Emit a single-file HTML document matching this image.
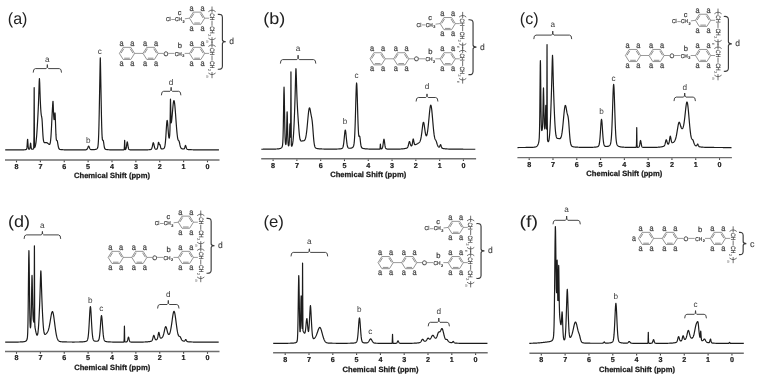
<!DOCTYPE html>
<html><head><meta charset="utf-8"><style>
html,body{margin:0;padding:0;background:#fff;overflow:hidden;}
svg{display:block;font-family:"Liberation Sans",sans-serif;will-change:transform;text-rendering:geometricPrecision;}
</style></head><body>
<svg width="758" height="377" viewBox="0 0 758 377">
<rect width="758" height="377" fill="#fff"/>
<line x1="5" y1="160" x2="219.5" y2="160" stroke="#6e6e6e" stroke-width="1.4"/>
<line x1="207.5" y1="160.6" x2="207.5" y2="162.3" stroke="#444" stroke-width="1.1"/>
<text x="207.5" y="168.9" text-anchor="middle" font-weight="bold" font-size="7.2" fill="#1a1a1a" stroke="#1a1a1a" stroke-width="0.2">0</text>
<line x1="183.62" y1="160.6" x2="183.62" y2="162.3" stroke="#444" stroke-width="1.1"/>
<text x="183.62" y="168.9" text-anchor="middle" font-weight="bold" font-size="7.2" fill="#1a1a1a" stroke="#1a1a1a" stroke-width="0.2">1</text>
<line x1="159.75" y1="160.6" x2="159.75" y2="162.3" stroke="#444" stroke-width="1.1"/>
<text x="159.75" y="168.9" text-anchor="middle" font-weight="bold" font-size="7.2" fill="#1a1a1a" stroke="#1a1a1a" stroke-width="0.2">2</text>
<line x1="135.88" y1="160.6" x2="135.88" y2="162.3" stroke="#444" stroke-width="1.1"/>
<text x="135.88" y="168.9" text-anchor="middle" font-weight="bold" font-size="7.2" fill="#1a1a1a" stroke="#1a1a1a" stroke-width="0.2">3</text>
<line x1="112" y1="160.6" x2="112" y2="162.3" stroke="#444" stroke-width="1.1"/>
<text x="112" y="168.9" text-anchor="middle" font-weight="bold" font-size="7.2" fill="#1a1a1a" stroke="#1a1a1a" stroke-width="0.2">4</text>
<line x1="88.12" y1="160.6" x2="88.12" y2="162.3" stroke="#444" stroke-width="1.1"/>
<text x="88.12" y="168.9" text-anchor="middle" font-weight="bold" font-size="7.2" fill="#1a1a1a" stroke="#1a1a1a" stroke-width="0.2">5</text>
<line x1="64.25" y1="160.6" x2="64.25" y2="162.3" stroke="#444" stroke-width="1.1"/>
<text x="64.25" y="168.9" text-anchor="middle" font-weight="bold" font-size="7.2" fill="#1a1a1a" stroke="#1a1a1a" stroke-width="0.2">6</text>
<line x1="40.38" y1="160.6" x2="40.38" y2="162.3" stroke="#444" stroke-width="1.1"/>
<text x="40.38" y="168.9" text-anchor="middle" font-weight="bold" font-size="7.2" fill="#1a1a1a" stroke="#1a1a1a" stroke-width="0.2">7</text>
<line x1="16.5" y1="160.6" x2="16.5" y2="162.3" stroke="#444" stroke-width="1.1"/>
<text x="16.5" y="168.9" text-anchor="middle" font-weight="bold" font-size="7.2" fill="#1a1a1a" stroke="#1a1a1a" stroke-width="0.2">8</text>
<text x="74" y="178.1" font-weight="bold" font-size="7.6" fill="#1a1a1a" stroke="#1a1a1a" stroke-width="0.25" textLength="76" lengthAdjust="spacingAndGlyphs">Chemical Shift (ppm)</text>
<polyline fill="none" stroke="#1c1c1c" stroke-width="1.2" stroke-linejoin="round" points="5.2,149.96 5.45,149.96 5.7,149.96 5.95,149.96 6.2,149.96 6.45,149.96 6.7,149.96 6.95,149.96 7.2,149.96 7.45,149.96 7.7,149.96 7.95,149.96 8.2,149.96 8.45,149.96 8.7,149.96 8.95,149.96 9.2,149.95 9.45,149.95 9.7,149.95 9.95,149.95 10.2,149.95 10.45,149.95 10.7,149.95 10.95,149.95 11.2,149.95 11.45,149.95 11.7,149.95 11.95,149.95 12.2,149.94 12.45,149.94 12.7,149.94 12.95,149.94 13.2,149.94 13.45,149.94 13.7,149.94 13.95,149.94 14.2,149.94 14.45,149.94 14.7,149.93 14.95,149.93 15.2,149.93 15.45,149.93 15.7,149.93 15.95,149.93 16.2,149.93 16.45,149.92 16.7,149.92 16.95,149.92 17.2,149.92 17.45,149.92 17.7,149.92 17.95,149.91 18.2,149.91 18.45,149.91 18.7,149.91 18.95,149.9 19.2,149.9 19.45,149.9 19.7,149.9 19.95,149.89 20.2,149.89 20.45,149.89 20.7,149.88 20.95,149.88 21.2,149.88 21.45,149.87 21.7,149.87 21.95,149.86 22.2,149.86 22.45,149.85 22.7,149.84 22.95,149.84 23.2,149.83 23.45,149.82 23.7,149.81 23.95,149.8 24.2,149.79 24.45,149.77 24.7,149.75 24.95,149.73 25.2,149.7 25.45,149.67 25.7,149.62 25.95,149.55 26.2,149.45 26.45,149.27 26.7,148.79 26.95,147.38 27.2,144.26 27.45,140.28 27.6,139.23 27.7,139.68 27.95,143.33 28.2,146.78 28.45,148.47 28.7,149.03 28.95,149.2 29.2,149.23 29.45,149.17 29.7,148.88 29.95,147.98 30.2,145.99 30.45,143.58 30.59,143.05 30.7,143.42 30.95,145.75 31.2,147.82 31.45,148.8 31.7,149.13 31.95,149.22 32.2,149.25 32.45,149.24 32.7,149.21 32.95,149.15 33.2,149.05 33.45,148.86 33.7,148.43 33.95,135.87 34.17,87.64 34.2,89.83 34.45,143.35 34.7,147.47 34.95,147.11 35.2,146.43 35.45,145.47 35.7,144.19 35.95,142.56 36.2,140.54 36.45,138.08 36.7,135.18 36.95,131.82 37.2,128.05 37.45,123.91 37.7,119.46 37.95,114.73 38.2,109.66 38.45,103.96 38.7,97.26 38.95,89.42 39.2,81.77 39.42,78.66 39.45,78.7 39.7,83.09 39.95,90.75 40.2,97.98 40.45,103.87 40.7,108.5 40.95,112.03 41.2,114.48 41.45,115.97 41.7,117.01 41.95,118.63 42.05,119.65 42.2,121.83 42.45,126.43 42.7,131.25 42.95,135.36 43.2,138.36 43.45,140.31 43.7,141.47 43.95,142.13 44.2,142.48 44.45,142.66 44.7,142.72 44.95,142.72 45.2,142.68 45.45,142.63 45.7,142.59 45.95,142.56 46.2,142.56 46.34,142.57 46.45,142.59 46.7,142.65 46.95,142.74 47.2,142.87 47.45,143.03 47.7,143.22 47.95,143.43 48.2,143.65 48.45,143.88 48.7,144.11 48.95,144.31 49.2,144.45 49.45,144.49 49.7,144.34 49.95,143.91 50.2,143.07 50.45,141.66 50.7,139.54 50.95,136.59 51.2,132.78 51.45,128.2 51.7,123.09 51.95,117.84 52.2,112.89 52.45,108.44 52.7,104.26 52.79,102.86 52.95,101.23 53.03,101.38 53.2,104.38 53.45,111 53.7,116.21 53.95,119.17 54.2,119.56 54.45,117.54 54.7,114.41 54.95,112.78 55.06,113.22 55.2,115.08 55.45,121.17 55.7,128.5 55.95,134.66 56.2,138.5 56.45,140.15 56.7,140.47 56.95,140.44 57.09,140.55 57.2,140.77 57.45,141.71 57.7,143.1 57.95,144.64 58.2,146.07 58.45,147.23 58.7,148.08 58.95,148.64 59.2,148.99 59.45,149.2 59.7,149.33 59.95,149.41 60.2,149.47 60.45,149.51 60.7,149.55 60.95,149.58 61.2,149.61 61.45,149.63 61.7,149.65 61.95,149.67 62.2,149.69 62.45,149.71 62.7,149.72 62.95,149.73 63.2,149.75 63.45,149.76 63.7,149.77 63.95,149.78 64.2,149.79 64.45,149.79 64.7,149.8 64.95,149.81 65.2,149.81 65.45,149.82 65.7,149.83 65.95,149.83 66.2,149.84 66.45,149.84 66.7,149.84 66.95,149.85 67.2,149.85 67.45,149.86 67.7,149.86 67.95,149.86 68.2,149.87 68.45,149.87 68.7,149.87 68.95,149.87 69.2,149.88 69.45,149.88 69.7,149.88 69.95,149.88 70.2,149.89 70.45,149.89 70.7,149.89 70.95,149.89 71.2,149.89 71.45,149.89 71.7,149.9 71.95,149.9 72.2,149.9 72.45,149.9 72.7,149.9 72.95,149.9 73.2,149.9 73.45,149.9 73.7,149.9 73.95,149.9 74.2,149.91 74.45,149.91 74.7,149.91 74.95,149.91 75.2,149.91 75.45,149.91 75.7,149.91 75.95,149.91 76.2,149.91 76.45,149.91 76.7,149.91 76.95,149.91 77.2,149.91 77.45,149.91 77.7,149.91 77.95,149.91 78.2,149.91 78.45,149.91 78.7,149.91 78.95,149.91 79.2,149.91 79.45,149.91 79.7,149.9 79.95,149.9 80.2,149.9 80.45,149.9 80.7,149.9 80.95,149.9 81.2,149.9 81.45,149.9 81.7,149.89 81.95,149.89 82.2,149.89 82.45,149.89 82.7,149.88 82.95,149.88 83.2,149.88 83.45,149.87 83.7,149.87 83.95,149.86 84.2,149.86 84.45,149.85 84.7,149.84 84.95,149.83 85.2,149.82 85.45,149.8 85.7,149.78 85.95,149.75 86.2,149.71 86.45,149.63 86.7,149.5 86.95,149.28 87.2,148.95 87.45,148.48 87.7,147.9 87.95,147.24 88.2,146.64 88.45,146.24 88.6,146.16 88.7,146.19 88.95,146.52 89.2,147.08 89.45,147.73 89.7,148.33 89.95,148.82 90.2,149.17 90.45,149.4 90.7,149.54 90.95,149.61 91.2,149.66 91.45,149.68 91.7,149.69 91.95,149.69 92.2,149.69 92.45,149.69 92.7,149.68 92.95,149.67 93.2,149.66 93.45,149.64 93.7,149.63 93.95,149.61 94.2,149.58 94.45,149.56 94.7,149.53 94.95,149.49 95.2,149.45 95.45,149.4 95.7,149.35 95.95,149.28 96.2,149.21 96.45,149.11 96.7,148.99 96.95,148.84 97.2,148.61 97.45,148.23 97.7,147.55 97.95,146.3 98.2,144.06 98.45,140.23 98.7,134.18 98.95,125.42 99.2,113.95 99.45,100.48 99.7,86.49 99.95,73.1 100.2,60.13 100.3,57.83 100.45,62.27 100.7,75.55 100.95,88.95 101.2,102.82 101.45,115.73 101.7,126.22 101.95,133.6 102.2,137.94 102.45,139.86 102.7,140.27 102.95,140.14 103.17,140.3 103.2,140.37 103.45,141.36 103.7,142.95 103.95,144.73 104.2,146.32 104.45,147.53 104.7,148.35 104.95,148.83 105.2,149.11 105.45,149.27 105.7,149.37 105.95,149.44 106.2,149.49 106.45,149.53 106.7,149.57 106.95,149.6 107.2,149.63 107.45,149.66 107.7,149.68 107.95,149.7 108.2,149.72 108.45,149.73 108.7,149.75 108.95,149.76 109.2,149.77 109.45,149.78 109.7,149.79 109.95,149.8 110.2,149.81 110.45,149.82 110.7,149.82 110.95,149.83 111.2,149.84 111.45,149.84 111.7,149.85 111.95,149.85 112.2,149.86 112.45,149.86 112.7,149.86 112.95,149.87 113.2,149.87 113.45,149.87 113.7,149.88 113.95,149.88 114.2,149.88 114.45,149.88 114.7,149.89 114.95,149.89 115.2,149.89 115.45,149.89 115.7,149.89 115.95,149.89 116.2,149.9 116.45,149.9 116.7,149.9 116.95,149.9 117.2,149.9 117.45,149.9 117.7,149.9 117.95,149.9 118.2,149.9 118.45,149.9 118.7,149.9 118.95,149.9 119.2,149.9 119.45,149.9 119.7,149.9 119.95,149.9 120.2,149.9 120.45,149.9 120.7,149.89 120.95,149.89 121.2,149.89 121.45,149.89 121.7,149.88 121.95,149.88 122.2,149.88 122.45,149.87 122.7,149.86 122.95,149.85 123.2,149.84 123.45,149.83 123.7,149.8 123.95,149.77 124.2,149.58 124.45,145.89 124.65,140.26 124.7,140.7 124.95,148.18 125.2,149.55 125.45,149.51 125.7,149.3 125.95,148.86 126.2,148.03 126.45,146.69 126.7,144.92 126.95,143.11 127.2,142 127.28,141.93 127.45,142.27 127.7,143.73 127.95,145.59 128.2,147.24 128.45,148.39 128.7,149.07 128.95,149.43 129.2,149.6 129.45,149.68 129.7,149.73 129.95,149.77 130.2,149.79 130.45,149.81 130.7,149.83 130.95,149.84 131.2,149.85 131.45,149.86 131.7,149.86 131.95,149.87 132.2,149.87 132.45,149.88 132.7,149.88 132.95,149.89 133.2,149.89 133.45,149.89 133.7,149.89 133.95,149.89 134.2,149.89 134.45,149.9 134.7,149.9 134.95,149.9 135.2,149.9 135.45,149.9 135.7,149.9 135.95,149.9 136.2,149.9 136.45,149.9 136.7,149.9 136.95,149.9 137.2,149.9 137.45,149.9 137.7,149.9 137.95,149.9 138.2,149.9 138.45,149.89 138.7,149.89 138.95,149.89 139.2,149.89 139.45,149.89 139.7,149.89 139.95,149.89 140.2,149.89 140.45,149.89 140.7,149.89 140.95,149.88 141.2,149.88 141.45,149.88 141.7,149.88 141.95,149.88 142.2,149.88 142.45,149.87 142.7,149.87 142.95,149.87 143.2,149.87 143.45,149.86 143.7,149.86 143.95,149.86 144.2,149.86 144.45,149.85 144.7,149.85 144.95,149.85 145.2,149.84 145.45,149.84 145.7,149.83 145.95,149.83 146.2,149.83 146.45,149.82 146.7,149.81 146.95,149.81 147.2,149.8 147.45,149.8 147.7,149.79 147.95,149.78 148.2,149.77 148.45,149.76 148.7,149.75 148.95,149.73 149.2,149.72 149.45,149.7 149.7,149.68 149.95,149.66 150.2,149.63 150.45,149.58 150.7,149.52 150.95,149.43 151.2,149.26 151.45,148.98 151.7,148.54 151.95,147.86 152.2,146.93 152.45,145.78 152.7,144.54 152.95,143.44 153.2,142.8 153.3,142.73 153.45,142.85 153.7,143.57 153.95,144.69 154.2,145.91 154.45,147.01 154.7,147.87 154.95,148.49 155.2,148.87 155.45,149.1 155.7,149.21 155.95,149.26 156.2,149.27 156.45,149.24 156.7,149.16 156.95,148.99 157.2,148.61 157.45,147.91 157.7,146.77 157.95,145.23 158.2,143.59 158.45,142.45 158.56,142.28 158.7,142.4 158.95,143.27 159.2,144.25 159.45,144.73 159.7,144.67 159.95,144.65 159.99,144.7 160.2,145.31 160.45,146.48 160.7,147.6 160.95,148.36 161.2,148.76 161.45,148.93 161.7,148.99 161.95,148.99 162.2,148.98 162.45,148.95 162.7,148.91 162.95,148.86 163.2,148.79 163.45,148.69 163.7,148.56 163.95,148.36 164.2,148.06 164.45,147.58 164.7,146.82 164.95,145.66 165.2,143.97 165.45,141.63 165.7,138.6 165.95,134.95 166.2,130.9 166.45,126.87 166.7,123.37 166.95,121.02 167.15,120.31 167.2,120.31 167.45,121.36 167.7,123.86 167.95,127.21 168.2,130.77 168.45,133.99 168.7,136.45 168.95,137.88 169.2,138.16 169.45,137.28 169.7,135.18 169.95,130.11 170.2,116.32 170.45,100.05 170.49,99.22 170.7,106.26 170.95,119.24 171.2,122.85 171.45,122.06 171.7,120.25 171.95,117.91 172.2,115.18 172.45,112.22 172.7,109.25 172.95,106.45 173.2,104.04 173.45,102.17 173.7,101 173.95,100.6 173.96,100.6 174.2,101.02 174.45,102.23 174.7,104.15 174.95,106.65 175.2,109.61 175.45,112.88 175.7,116.32 175.95,119.81 176.2,123.25 176.45,126.54 176.7,129.61 176.95,132.38 177.2,134.8 177.45,136.8 177.7,138.36 177.95,139.44 178.2,140.1 178.45,140.43 178.7,140.62 178.95,140.92 179.09,141.22 179.2,141.55 179.45,142.53 179.7,143.73 179.95,144.94 180.2,146.01 180.45,146.87 180.7,147.52 180.95,147.96 181.2,148.26 181.45,148.47 181.7,148.61 181.95,148.72 182.2,148.8 182.45,148.87 182.7,148.92 182.95,148.97 183.2,149 183.45,149.02 183.7,149.01 183.95,148.94 184.2,148.75 184.45,148.37 184.7,147.74 184.95,146.88 185.2,146 185.45,145.46 185.53,145.43 185.7,145.6 185.95,146.35 186.2,147.3 186.45,148.15 186.7,148.75 186.95,149.11 187.2,149.31 187.45,149.41 187.7,149.47 187.95,149.51 188.2,149.54 188.45,149.56 188.7,149.58 188.95,149.6 189.2,149.62 189.45,149.64 189.7,149.65 189.95,149.66 190.2,149.68 190.45,149.69 190.7,149.7 190.95,149.71 191.2,149.72 191.45,149.72 191.7,149.73 191.95,149.74 192.2,149.75 192.45,149.76 192.7,149.76 192.95,149.77 193.2,149.78 193.45,149.78 193.7,149.79 193.95,149.79 194.2,149.8 194.45,149.8 194.7,149.81 194.95,149.81 195.2,149.82 195.45,149.82 195.7,149.82 195.95,149.83 196.2,149.83 196.45,149.84 196.7,149.84 196.95,149.84 197.2,149.85 197.45,149.85 197.7,149.85 197.95,149.86 198.2,149.86 198.45,149.86 198.7,149.86 198.95,149.87 199.2,149.87 199.45,149.87 199.7,149.87 199.95,149.88 200.2,149.88 200.45,149.88 200.7,149.88 200.95,149.89 201.2,149.89 201.45,149.89 201.7,149.89 201.95,149.89 202.2,149.89 202.45,149.9 202.7,149.9 202.95,149.9 203.2,149.9 203.45,149.9 203.7,149.9 203.95,149.91 204.2,149.91 204.45,149.91 204.7,149.91 204.95,149.91 205.2,149.91 205.45,149.91 205.7,149.92 205.95,149.92 206.2,149.92 206.45,149.92 206.7,149.92 206.95,149.92 207.2,149.92 207.45,149.92 207.7,149.93 207.95,149.93 208.2,149.93 208.45,149.93 208.7,149.93 208.95,149.93 209.2,149.93 209.45,149.93 209.7,149.93 209.95,149.93 210.2,149.93 210.45,149.94 210.7,149.94 210.95,149.94 211.2,149.94 211.45,149.94 211.7,149.94 211.95,149.94 212.2,149.94 212.45,149.94 212.7,149.94 212.95,149.94 213.2,149.94 213.45,149.94 213.7,149.95 213.95,149.95 214.2,149.95 214.45,149.95 214.7,149.95 214.95,149.95 215.2,149.95 215.45,149.95 215.7,149.95 215.95,149.95 216.2,149.95 216.45,149.95 216.7,149.95 216.95,149.95 217.2,149.95 217.45,149.95 217.7,149.95 217.95,149.95 218.2,149.96 218.45,149.96 218.7,149.96 218.95,149.96"/>
<text x="7.8" y="23.7" font-size="16.3" fill="#222" textLength="19.6" lengthAdjust="spacingAndGlyphs">(a)</text>
<path d="M33.2,72.6 Q33.2,68.6 35.4,68.6 L46.15,68.6 Q47.35,68.6 47.35,64.6 Q47.35,68.6 48.55,68.6 L59.3,68.6 Q61.5,68.6 61.5,72.6" fill="none" stroke="#3a3a3a" stroke-width="0.95"/>
<text x="47.35" y="61.5" text-anchor="middle" font-size="8.2" fill="#3a3a3a">a</text>
<text x="88.4" y="143.2" text-anchor="middle" font-size="8.2" fill="#3a3a3a">b</text>
<text x="99.9" y="53.9" text-anchor="middle" font-size="8.2" fill="#3a3a3a">c</text>
<path d="M161.4,95.3 Q161.4,91.3 163.6,91.3 L169.95,91.3 Q171.15,91.3 171.15,87.3 Q171.15,91.3 172.35,91.3 L178.7,91.3 Q180.9,91.3 180.9,95.3" fill="none" stroke="#3a3a3a" stroke-width="0.95"/>
<text x="171.15" y="84.5" text-anchor="middle" font-size="8.2" fill="#3a3a3a">d</text>
<polygon points="204.7,18.2 200.9,24.26 193.3,24.26 189.5,18.2 193.3,12.14 200.9,12.14" fill="none" stroke="#707070" stroke-width="0.75"/>
<line x1="200.29" y1="13.52" x2="203.1" y2="18" stroke="#707070" stroke-width="0.8"/>
<line x1="199.91" y1="23.01" x2="194.29" y2="23.01" stroke="#707070" stroke-width="0.8"/>
<line x1="191.1" y1="18" x2="193.91" y2="13.52" stroke="#707070" stroke-width="0.8"/>
<text x="191.6" y="10.8" font-size="8.6" fill="#404040" text-anchor="middle" stroke="#404040" stroke-width="0.22" textLength="4.1" lengthAdjust="spacingAndGlyphs">a</text>
<text x="191.6" y="30.7" font-size="8.6" fill="#404040" text-anchor="middle" stroke="#404040" stroke-width="0.22" textLength="4.1" lengthAdjust="spacingAndGlyphs">a</text>
<text x="202.5" y="10.8" font-size="8.6" fill="#404040" text-anchor="middle" stroke="#404040" stroke-width="0.22" textLength="4.1" lengthAdjust="spacingAndGlyphs">a</text>
<text x="202.5" y="30.7" font-size="8.6" fill="#404040" text-anchor="middle" stroke="#404040" stroke-width="0.22" textLength="4.1" lengthAdjust="spacingAndGlyphs">a</text>
<text x="165.9" y="21.1" font-size="5.6" fill="#404040" text-anchor="start" stroke="#404040" stroke-width="0.22" textLength="4.8" lengthAdjust="spacingAndGlyphs">Cl</text>
<line x1="171.3" y1="19.5" x2="174.9" y2="19.5" stroke="#707070" stroke-width="0.7"/>
<text x="175.1" y="21.1" font-size="5.6" fill="#404040" text-anchor="start" stroke="#404040" stroke-width="0.22" textLength="7" lengthAdjust="spacingAndGlyphs">CH</text>
<text x="182.5" y="22.6" font-size="3.8" fill="#404040" text-anchor="start" stroke="#404040" stroke-width="0.22">2</text>
<line x1="184.9" y1="18.8" x2="189.5" y2="18.2" stroke="#707070" stroke-width="0.7"/>
<text x="179.5" y="14.6" font-size="7.4" fill="#3a3a3a" text-anchor="middle" stroke="#3a3a3a" stroke-width="0.22">c</text>
<line x1="204.7" y1="18.2" x2="209.1" y2="18.2" stroke="#707070" stroke-width="0.7"/>
<g transform="translate(212,10) scale(1)">
<path d="M-3.6,1.7 Q0,-1.5 3.6,1.7" fill="none" stroke="#404040" stroke-width="0.75"/>
<line x1="0" y1="-3.5" x2="0" y2="2.8" stroke="#404040" stroke-width="0.75"/>
<text transform="translate(-2.2,3.2) rotate(90)" font-size="6.3" fill="#404040" stroke="#404040" stroke-width="0.2" textLength="7.2" lengthAdjust="spacingAndGlyphs">CH</text>
<line x1="0" y1="10.7" x2="0" y2="15.8" stroke="#404040" stroke-width="0.75"/>
<text transform="translate(-2.2,16.3) rotate(90)" font-size="6.3" fill="#404040" stroke="#404040" stroke-width="0.2" textLength="7.4" lengthAdjust="spacingAndGlyphs">CH</text>
<text transform="translate(-4.2,24.0) rotate(90)" font-size="4.2" fill="#404040">2</text>
<path d="M-3.6,28.2 Q0,31.4 3.6,28.2" fill="none" stroke="#404040" stroke-width="0.75"/>
<line x1="0" y1="27.2" x2="0" y2="33.4" stroke="#404040" stroke-width="0.75"/>
<text transform="translate(-6.0,30.6) rotate(90)" font-size="4.2" fill="#404040">n</text>
</g>
<polygon points="204.7,53.4 200.9,59.46 193.3,59.46 189.5,53.4 193.3,47.34 200.9,47.34" fill="none" stroke="#707070" stroke-width="0.75"/>
<line x1="200.29" y1="48.72" x2="203.1" y2="53.2" stroke="#707070" stroke-width="0.8"/>
<line x1="199.91" y1="58.21" x2="194.29" y2="58.21" stroke="#707070" stroke-width="0.8"/>
<line x1="191.1" y1="53.2" x2="193.91" y2="48.72" stroke="#707070" stroke-width="0.8"/>
<text x="191.6" y="46" font-size="8.6" fill="#404040" text-anchor="middle" stroke="#404040" stroke-width="0.22" textLength="4.1" lengthAdjust="spacingAndGlyphs">a</text>
<text x="191.6" y="65.9" font-size="8.6" fill="#404040" text-anchor="middle" stroke="#404040" stroke-width="0.22" textLength="4.1" lengthAdjust="spacingAndGlyphs">a</text>
<text x="202.5" y="46" font-size="8.6" fill="#404040" text-anchor="middle" stroke="#404040" stroke-width="0.22" textLength="4.1" lengthAdjust="spacingAndGlyphs">a</text>
<text x="202.5" y="65.9" font-size="8.6" fill="#404040" text-anchor="middle" stroke="#404040" stroke-width="0.22" textLength="4.1" lengthAdjust="spacingAndGlyphs">a</text>
<polygon points="158.2,53.4 154.4,59.46 146.8,59.46 143,53.4 146.8,47.34 154.4,47.34" fill="none" stroke="#707070" stroke-width="0.75"/>
<line x1="153.79" y1="48.72" x2="156.6" y2="53.2" stroke="#707070" stroke-width="0.8"/>
<line x1="153.41" y1="58.21" x2="147.79" y2="58.21" stroke="#707070" stroke-width="0.8"/>
<line x1="144.6" y1="53.2" x2="147.41" y2="48.72" stroke="#707070" stroke-width="0.8"/>
<text x="145.1" y="46" font-size="8.6" fill="#404040" text-anchor="middle" stroke="#404040" stroke-width="0.22" textLength="4.1" lengthAdjust="spacingAndGlyphs">a</text>
<text x="145.1" y="65.9" font-size="8.6" fill="#404040" text-anchor="middle" stroke="#404040" stroke-width="0.22" textLength="4.1" lengthAdjust="spacingAndGlyphs">a</text>
<text x="156" y="46" font-size="8.6" fill="#404040" text-anchor="middle" stroke="#404040" stroke-width="0.22" textLength="4.1" lengthAdjust="spacingAndGlyphs">a</text>
<text x="156" y="65.9" font-size="8.6" fill="#404040" text-anchor="middle" stroke="#404040" stroke-width="0.22" textLength="4.1" lengthAdjust="spacingAndGlyphs">a</text>
<polygon points="134.6,53.4 130.8,59.46 123.2,59.46 119.4,53.4 123.2,47.34 130.8,47.34" fill="none" stroke="#707070" stroke-width="0.75"/>
<line x1="130.19" y1="48.72" x2="133" y2="53.2" stroke="#707070" stroke-width="0.8"/>
<line x1="129.81" y1="58.21" x2="124.19" y2="58.21" stroke="#707070" stroke-width="0.8"/>
<line x1="121" y1="53.2" x2="123.81" y2="48.72" stroke="#707070" stroke-width="0.8"/>
<text x="121.5" y="46" font-size="8.6" fill="#404040" text-anchor="middle" stroke="#404040" stroke-width="0.22" textLength="4.1" lengthAdjust="spacingAndGlyphs">a</text>
<text x="121.5" y="65.9" font-size="8.6" fill="#404040" text-anchor="middle" stroke="#404040" stroke-width="0.22" textLength="4.1" lengthAdjust="spacingAndGlyphs">a</text>
<text x="132.4" y="46" font-size="8.6" fill="#404040" text-anchor="middle" stroke="#404040" stroke-width="0.22" textLength="4.1" lengthAdjust="spacingAndGlyphs">a</text>
<text x="132.4" y="65.9" font-size="8.6" fill="#404040" text-anchor="middle" stroke="#404040" stroke-width="0.22" textLength="4.1" lengthAdjust="spacingAndGlyphs">a</text>
<line x1="134.6" y1="53.4" x2="143" y2="53.4" stroke="#707070" stroke-width="0.7"/>
<line x1="158.2" y1="53.4" x2="163.5" y2="53.4" stroke="#707070" stroke-width="0.7"/>
<text x="165.9" y="55.9" font-size="6.3" fill="#404040" text-anchor="middle" stroke="#404040" stroke-width="0.22">O</text>
<line x1="168.3" y1="53.4" x2="174.5" y2="53.4" stroke="#707070" stroke-width="0.7"/>
<text x="174.8" y="55.7" font-size="5.6" fill="#404040" text-anchor="start" stroke="#404040" stroke-width="0.22" textLength="7" lengthAdjust="spacingAndGlyphs">CH</text>
<text x="182.3" y="57.3" font-size="3.8" fill="#404040" text-anchor="start" stroke="#404040" stroke-width="0.22">2</text>
<line x1="184.7" y1="53.4" x2="189.5" y2="53.4" stroke="#707070" stroke-width="0.7"/>
<text x="179.8" y="48.4" font-size="7.6" fill="#3a3a3a" text-anchor="middle" stroke="#3a3a3a" stroke-width="0.22">b</text>
<line x1="204.7" y1="53.4" x2="209.1" y2="53.4" stroke="#707070" stroke-width="0.7"/>
<g transform="translate(212,44.8) scale(1)">
<path d="M-3.6,1.7 Q0,-1.5 3.6,1.7" fill="none" stroke="#404040" stroke-width="0.75"/>
<line x1="0" y1="-3.5" x2="0" y2="2.8" stroke="#404040" stroke-width="0.75"/>
<text transform="translate(-2.2,3.2) rotate(90)" font-size="6.3" fill="#404040" stroke="#404040" stroke-width="0.2" textLength="7.2" lengthAdjust="spacingAndGlyphs">CH</text>
<line x1="0" y1="10.7" x2="0" y2="15.8" stroke="#404040" stroke-width="0.75"/>
<text transform="translate(-2.2,16.3) rotate(90)" font-size="6.3" fill="#404040" stroke="#404040" stroke-width="0.2" textLength="7.4" lengthAdjust="spacingAndGlyphs">CH</text>
<text transform="translate(-4.2,24.0) rotate(90)" font-size="4.2" fill="#404040">2</text>
<path d="M-3.6,28.2 Q0,31.4 3.6,28.2" fill="none" stroke="#404040" stroke-width="0.75"/>
<line x1="0" y1="27.2" x2="0" y2="33.4" stroke="#404040" stroke-width="0.75"/>
<text transform="translate(-6.0,30.6) rotate(90)" font-size="4.2" fill="#404040">n</text>
</g>
<path d="M217.8,14.4 Q222.4,13.8 222.4,17.4 L222.4,39.7 Q222.4,41.7 225.8,41.7 Q222.4,41.7 222.4,43.7 L222.4,66.2 Q222.4,69.8 217.8,69.2" fill="none" stroke="#3a3a3a" stroke-width="1.15"/>
<text x="231.7" y="44.1" font-size="8.5" fill="#3a3a3a" text-anchor="middle" stroke="#3a3a3a" stroke-width="0.1">d</text>
<line x1="261.2" y1="158.8" x2="476.1" y2="158.8" stroke="#6e6e6e" stroke-width="1.4"/>
<line x1="463.42" y1="159.4" x2="463.42" y2="161.1" stroke="#444" stroke-width="1.1"/>
<text x="463.42" y="167.7" text-anchor="middle" font-weight="bold" font-size="7.2" fill="#1a1a1a" stroke="#1a1a1a" stroke-width="0.2">0</text>
<line x1="439.63" y1="159.4" x2="439.63" y2="161.1" stroke="#444" stroke-width="1.1"/>
<text x="439.63" y="167.7" text-anchor="middle" font-weight="bold" font-size="7.2" fill="#1a1a1a" stroke="#1a1a1a" stroke-width="0.2">1</text>
<line x1="415.84" y1="159.4" x2="415.84" y2="161.1" stroke="#444" stroke-width="1.1"/>
<text x="415.84" y="167.7" text-anchor="middle" font-weight="bold" font-size="7.2" fill="#1a1a1a" stroke="#1a1a1a" stroke-width="0.2">2</text>
<line x1="392.05" y1="159.4" x2="392.05" y2="161.1" stroke="#444" stroke-width="1.1"/>
<text x="392.05" y="167.7" text-anchor="middle" font-weight="bold" font-size="7.2" fill="#1a1a1a" stroke="#1a1a1a" stroke-width="0.2">3</text>
<line x1="368.26" y1="159.4" x2="368.26" y2="161.1" stroke="#444" stroke-width="1.1"/>
<text x="368.26" y="167.7" text-anchor="middle" font-weight="bold" font-size="7.2" fill="#1a1a1a" stroke="#1a1a1a" stroke-width="0.2">4</text>
<line x1="344.47" y1="159.4" x2="344.47" y2="161.1" stroke="#444" stroke-width="1.1"/>
<text x="344.47" y="167.7" text-anchor="middle" font-weight="bold" font-size="7.2" fill="#1a1a1a" stroke="#1a1a1a" stroke-width="0.2">5</text>
<line x1="320.68" y1="159.4" x2="320.68" y2="161.1" stroke="#444" stroke-width="1.1"/>
<text x="320.68" y="167.7" text-anchor="middle" font-weight="bold" font-size="7.2" fill="#1a1a1a" stroke="#1a1a1a" stroke-width="0.2">6</text>
<line x1="296.89" y1="159.4" x2="296.89" y2="161.1" stroke="#444" stroke-width="1.1"/>
<text x="296.89" y="167.7" text-anchor="middle" font-weight="bold" font-size="7.2" fill="#1a1a1a" stroke="#1a1a1a" stroke-width="0.2">7</text>
<line x1="273.1" y1="159.4" x2="273.1" y2="161.1" stroke="#444" stroke-width="1.1"/>
<text x="273.1" y="167.7" text-anchor="middle" font-weight="bold" font-size="7.2" fill="#1a1a1a" stroke="#1a1a1a" stroke-width="0.2">8</text>
<text x="330.2" y="177.3" font-weight="bold" font-size="7.6" fill="#1a1a1a" stroke="#1a1a1a" stroke-width="0.25" textLength="76" lengthAdjust="spacingAndGlyphs">Chemical Shift (ppm)</text>
<polyline fill="none" stroke="#1c1c1c" stroke-width="1.2" stroke-linejoin="round" points="261.3,149.23 261.55,149.23 261.8,149.23 262.05,149.23 262.3,149.23 262.55,149.23 262.8,149.23 263.05,149.22 263.3,149.22 263.55,149.22 263.8,149.22 264.05,149.22 264.3,149.22 264.55,149.22 264.8,149.22 265.05,149.21 265.3,149.21 265.55,149.21 265.8,149.21 266.05,149.21 266.3,149.21 266.55,149.2 266.8,149.2 267.05,149.2 267.3,149.2 267.55,149.2 267.8,149.19 268.05,149.19 268.3,149.19 268.55,149.19 268.8,149.18 269.05,149.18 269.3,149.18 269.55,149.18 269.8,149.17 270.05,149.17 270.3,149.17 270.55,149.16 270.8,149.16 271.05,149.16 271.3,149.15 271.55,149.15 271.8,149.15 272.05,149.14 272.3,149.14 272.55,149.13 272.8,149.13 273.05,149.12 273.3,149.12 273.55,149.11 273.8,149.1 274.05,149.1 274.3,149.09 274.55,149.08 274.8,149.07 275.05,149.06 275.3,149.06 275.55,149.05 275.8,149.03 276.05,149.02 276.3,149.01 276.55,149 276.8,148.98 277.05,148.97 277.3,148.95 277.55,148.93 277.8,148.91 278.05,148.88 278.3,148.86 278.55,148.83 278.8,148.79 279.05,148.75 279.3,148.71 279.55,148.66 279.8,148.6 280.05,148.53 280.3,148.45 280.55,148.35 280.8,148.23 281.05,148.09 281.3,147.9 281.55,147.67 281.8,147.36 282.05,146.93 282.3,146.27 282.55,145.08 282.8,142.52 283.05,137.03 283.3,126.72 283.55,111.3 283.8,94.8 284.04,87.17 284.05,87.17 284.3,95.42 284.55,111.93 284.8,126.97 285.05,136.79 285.3,141.83 285.55,143.94 285.8,144.54 286.05,143.93 286.3,141.14 286.55,134.19 286.8,122.73 287.05,112.68 287.14,111.77 287.3,115.04 287.55,126.85 287.8,137.32 288.05,143 288.3,145.21 288.55,145.85 288.8,145.74 289.05,144.58 289.3,141.22 289.55,134.63 289.8,126.62 289.99,123.75 290.05,124.04 290.3,130.08 290.55,137.14 290.8,106.86 290.94,71.97 291.05,96.67 291.3,144.53 291.55,146.12 291.8,146.14 292.05,145.79 292.3,145.11 292.55,144.04 292.8,142.5 293.05,140.4 293.3,137.63 293.55,134.12 293.8,129.83 294.05,124.77 294.3,119.01 294.55,112.6 294.8,105.49 295.05,97.5 295.3,88.39 295.55,78.52 295.8,70.41 295.94,68.72 296.05,69.43 296.3,76.02 296.55,84.74 296.8,92.65 297.05,99.26 297.3,104.78 297.55,109.53 297.8,113.73 298.05,117.56 298.3,121.22 298.32,121.47 298.55,124.8 298.8,128.25 299.05,131.41 299.3,134.13 299.55,136.34 299.8,138.04 300.05,139.27 300.3,140.1 300.55,140.61 300.8,140.9 301.05,141.02 301.3,141.06 301.55,141.03 301.8,140.99 302.05,140.93 302.3,140.88 302.55,140.85 302.8,140.82 302.84,140.81 303.05,140.8 303.3,140.78 303.55,140.76 303.8,140.72 304.05,140.64 304.3,140.51 304.55,140.3 304.8,139.99 305.05,139.54 305.3,138.93 305.55,138.11 305.8,137.06 306.05,135.76 306.3,134.19 306.55,132.33 306.8,130.2 307.05,127.83 307.3,125.26 307.55,122.54 307.8,119.77 308.05,117.05 308.3,114.47 308.55,112.17 308.8,110.27 309.05,108.87 309.3,108.04 309.5,107.83 309.55,107.83 309.8,108.22 310.05,109.1 310.3,110.35 310.55,111.79 310.8,113.28 311.05,114.7 311.3,115.99 311.55,117.21 311.8,118.49 312.05,120.04 312.3,122.06 312.35,122.57 312.55,124.66 312.8,127.77 313.05,131.14 313.3,134.5 313.55,137.61 313.8,140.32 314.05,142.53 314.3,144.25 314.55,145.53 314.8,146.45 315.05,147.08 315.3,147.52 315.55,147.82 315.8,148.03 316.05,148.19 316.3,148.3 316.55,148.39 316.8,148.47 317.05,148.53 317.3,148.58 317.55,148.62 317.8,148.66 318.05,148.69 318.3,148.72 318.55,148.75 318.8,148.78 319.05,148.8 319.3,148.82 319.55,148.84 319.8,148.86 320.05,148.88 320.3,148.89 320.55,148.91 320.8,148.92 321.05,148.93 321.3,148.95 321.55,148.96 321.8,148.97 322.05,148.98 322.3,148.99 322.55,148.99 322.8,149 323.05,149.01 323.3,149.02 323.55,149.02 323.8,149.03 324.05,149.04 324.3,149.04 324.55,149.05 324.8,149.05 325.05,149.06 325.3,149.06 325.55,149.06 325.8,149.07 326.05,149.07 326.3,149.07 326.55,149.08 326.8,149.08 327.05,149.08 327.3,149.09 327.55,149.09 327.8,149.09 328.05,149.09 328.3,149.09 328.55,149.1 328.8,149.1 329.05,149.1 329.3,149.1 329.55,149.1 329.8,149.1 330.05,149.1 330.3,149.1 330.55,149.1 330.8,149.1 331.05,149.1 331.3,149.1 331.55,149.1 331.8,149.1 332.05,149.1 332.3,149.1 332.55,149.1 332.8,149.1 333.05,149.1 333.3,149.09 333.55,149.09 333.8,149.09 334.05,149.09 334.3,149.08 334.55,149.08 334.8,149.08 335.05,149.07 335.3,149.07 335.55,149.07 335.8,149.06 336.05,149.06 336.3,149.05 336.55,149.04 336.8,149.04 337.05,149.03 337.3,149.02 337.55,149.01 337.8,149 338.05,148.99 338.3,148.98 338.55,148.97 338.8,148.95 339.05,148.94 339.3,148.92 339.55,148.9 339.8,148.87 340.05,148.85 340.3,148.82 340.55,148.78 340.8,148.75 341.05,148.7 341.3,148.64 341.55,148.57 341.8,148.48 342.05,148.35 342.3,148.16 342.55,147.87 342.8,147.42 343.05,146.73 343.3,145.73 343.55,144.32 343.8,142.47 344.05,140.19 344.3,137.59 344.55,134.9 344.8,132.45 345.05,130.68 345.3,130.02 345.3,130.02 345.55,130.64 345.8,132.36 346.05,134.78 346.3,137.46 346.55,140.04 346.8,142.31 347.05,144.15 347.3,145.54 347.55,146.53 347.8,147.2 348.05,147.63 348.3,147.9 348.55,148.06 348.8,148.16 349.05,148.22 349.3,148.25 349.55,148.27 349.8,148.27 350.05,148.26 350.3,148.24 350.55,148.21 350.8,148.17 351.05,148.12 351.3,148.06 351.55,147.98 351.8,147.89 352.05,147.78 352.3,147.65 352.55,147.48 352.8,147.27 353.05,146.99 353.3,146.59 353.55,145.99 353.8,145.08 354.05,143.66 354.3,141.48 354.55,138.25 354.8,133.68 355.05,127.58 355.3,119.96 355.55,111.12 355.8,101.76 356.05,92.98 356.3,86.26 356.55,83.1 356.6,82.99 356.8,84.37 357.05,89.68 357.3,97.7 357.55,106.85 357.8,115.79 358.05,123.58 358.3,129.63 358.55,133.7 358.8,135.85 359.05,136.48 359.3,136.25 359.55,136.02 359.7,136.24 359.8,136.62 360.05,138.26 360.3,140.48 360.55,142.72 360.8,144.59 361.05,145.96 361.3,146.86 361.55,147.42 361.8,147.75 362.05,147.97 362.3,148.12 362.55,148.23 362.8,148.32 363.05,148.4 363.3,148.47 363.55,148.53 363.8,148.59 364.05,148.63 364.3,148.68 364.55,148.71 364.8,148.75 365.05,148.78 365.3,148.81 365.55,148.83 365.8,148.86 366.05,148.88 366.3,148.9 366.55,148.91 366.8,148.93 367.05,148.95 367.3,148.96 367.55,148.97 367.8,148.98 368.05,149 368.3,149.01 368.55,149.02 368.8,149.03 369.05,149.03 369.3,149.04 369.55,149.05 369.8,149.06 370.05,149.06 370.3,149.07 370.55,149.08 370.8,149.08 371.05,149.09 371.3,149.09 371.55,149.1 371.8,149.1 372.05,149.1 372.3,149.11 372.55,149.11 372.8,149.11 373.05,149.12 373.3,149.12 373.55,149.12 373.8,149.12 374.05,149.13 374.3,149.13 374.55,149.13 374.8,149.13 375.05,149.13 375.3,149.13 375.55,149.13 375.8,149.13 376.05,149.13 376.3,149.13 376.55,149.13 376.8,149.13 377.05,149.13 377.3,149.13 377.55,149.13 377.8,149.12 378.05,149.12 378.3,149.12 378.55,149.11 378.8,149.1 379.05,149.09 379.3,149.08 379.55,149.06 379.8,149.03 380.05,148.61 380.3,144.92 380.39,144.04 380.55,146.11 380.8,148.8 381.05,148.93 381.3,148.9 381.55,148.84 381.8,148.74 382.05,148.53 382.3,148.15 382.55,147.47 382.8,146.36 383.05,144.78 383.3,142.84 383.55,140.88 383.8,139.49 383.96,139.2 384.05,139.29 384.3,140.38 384.55,142.25 384.8,144.25 385.05,145.95 385.3,147.2 385.55,147.99 385.8,148.45 386.05,148.7 386.3,148.84 386.55,148.91 386.8,148.96 387.05,149 387.3,149.03 387.55,149.05 387.8,149.07 388.05,149.08 388.3,149.1 388.55,149.11 388.8,149.12 389.05,149.12 389.3,149.13 389.55,149.14 389.8,149.14 390.05,149.15 390.3,149.15 390.55,149.15 390.8,149.16 391.05,149.16 391.3,149.16 391.55,149.16 391.8,149.16 392.05,149.16 392.3,149.16 392.55,149.17 392.8,149.17 393.05,149.17 393.3,149.17 393.55,149.17 393.8,149.16 394.05,149.16 394.3,149.16 394.55,149.16 394.8,149.16 395.05,149.16 395.3,149.16 395.55,149.15 395.8,149.15 396.05,149.15 396.3,149.15 396.55,149.14 396.8,149.14 397.05,149.13 397.3,149.13 397.55,149.12 397.8,149.12 398.05,149.11 398.3,149.11 398.55,149.1 398.8,149.09 399.05,149.08 399.3,149.07 399.55,149.06 399.8,149.05 400.05,149.04 400.3,149.03 400.55,149.02 400.8,149 401.05,148.99 401.3,148.97 401.55,148.95 401.8,148.94 402.05,148.92 402.3,148.89 402.55,148.87 402.8,148.85 403.05,148.82 403.3,148.79 403.55,148.76 403.8,148.73 404.05,148.69 404.3,148.66 404.55,148.62 404.8,148.57 405.05,148.53 405.3,148.48 405.55,148.42 405.8,148.37 406.05,148.3 406.3,148.23 406.55,148.15 406.8,148.05 407.05,147.92 407.3,147.73 407.55,147.44 407.8,147 408.05,146.37 408.3,145.52 408.55,144.47 408.8,143.33 409.05,142.3 409.3,141.64 409.42,141.53 409.55,141.57 409.8,142.08 410.05,142.95 410.3,143.9 410.55,144.75 410.8,145.39 411.05,145.79 411.3,145.98 411.55,145.94 411.8,145.66 412.05,145.04 412.3,143.97 412.55,142.45 412.8,140.72 413.05,139.33 413.22,138.94 413.3,138.97 413.55,139.82 413.8,141.3 414.05,142.74 414.3,143.79 414.55,144.4 414.8,144.67 415.05,144.74 415.3,144.7 415.55,144.63 415.8,144.53 416.05,144.42 416.3,144.3 416.55,144.18 416.8,144.05 417.05,143.92 417.3,143.79 417.55,143.65 417.8,143.51 418.05,143.36 418.3,143.21 418.55,143.04 418.8,142.85 419.05,142.64 419.3,142.39 419.55,142.09 419.8,141.71 420.05,141.22 420.3,140.6 420.55,139.81 420.8,138.82 421.05,137.6 421.3,136.15 421.55,134.46 421.8,132.57 422.05,130.53 422.3,128.45 422.55,126.43 422.8,124.65 422.98,123.62 423.05,123.27 423.3,122.45 423.45,122.28 423.55,122.31 423.8,122.85 424.05,123.98 424.3,125.53 424.55,127.33 424.8,129.19 425.05,130.97 425.3,132.57 425.55,133.89 425.8,134.88 426.05,135.51 426.3,135.77 426.55,135.64 426.8,135.15 427.05,134.29 427.3,133.1 427.55,131.58 427.8,129.76 428.05,127.66 428.3,125.33 428.55,122.81 428.8,120.15 429.05,117.43 429.3,114.75 429.55,112.18 429.8,109.86 430.05,107.89 430.3,106.39 430.55,105.46 430.8,105.17 430.83,105.18 431.05,105.56 431.3,106.6 431.55,108.24 431.8,110.36 432.05,112.87 432.3,115.64 432.55,118.55 432.8,121.51 433.05,124.42 433.3,127.2 433.55,129.78 433.8,132.11 434.05,134.14 434.3,135.85 434.55,137.21 434.8,138.25 435.05,139 435.3,139.52 435.55,139.91 435.8,140.28 436.05,140.75 436.06,140.78 436.3,141.38 436.55,142.16 436.8,143.01 437.05,143.86 437.3,144.64 437.55,145.32 437.8,145.88 438.05,146.33 438.3,146.66 438.55,146.91 438.8,147.06 439.05,147.12 439.3,147.04 439.55,146.75 439.8,146.22 440.05,145.52 440.3,144.84 440.55,144.53 440.58,144.53 440.8,144.84 441.05,145.61 441.3,146.49 441.55,147.23 441.8,147.75 442.05,148.06 442.3,148.24 442.55,148.35 442.8,148.43 443.05,148.49 443.3,148.54 443.55,148.59 443.8,148.63 444.05,148.67 444.3,148.7 444.55,148.73 444.8,148.76 445.05,148.79 445.3,148.82 445.55,148.84 445.8,148.86 446.05,148.88 446.3,148.9 446.55,148.92 446.8,148.94 447.05,148.95 447.3,148.97 447.55,148.98 447.8,148.99 448.05,149.01 448.3,149.02 448.55,149.03 448.8,149.04 449.05,149.05 449.3,149.06 449.55,149.06 449.8,149.07 450.05,149.08 450.3,149.09 450.55,149.09 450.8,149.1 451.05,149.11 451.3,149.11 451.55,149.12 451.8,149.12 452.05,149.13 452.3,149.13 452.55,149.14 452.8,149.14 453.05,149.14 453.3,149.15 453.55,149.15 453.8,149.15 454.05,149.16 454.3,149.16 454.55,149.16 454.8,149.17 455.05,149.17 455.3,149.17 455.55,149.17 455.8,149.18 456.05,149.18 456.3,149.18 456.55,149.18 456.8,149.19 457.05,149.19 457.3,149.19 457.55,149.19 457.8,149.19 458.05,149.2 458.3,149.2 458.55,149.2 458.8,149.2 459.05,149.2 459.3,149.2 459.55,149.21 459.8,149.21 460.05,149.21 460.3,149.21 460.55,149.21 460.8,149.21 461.05,149.21 461.3,149.22 461.55,149.22 461.8,149.22 462.05,149.22 462.3,149.22 462.55,149.22 462.8,149.22 463.05,149.22 463.3,149.23 463.55,149.23 463.8,149.23 464.05,149.23 464.3,149.23 464.55,149.23 464.8,149.23 465.05,149.23 465.3,149.23 465.55,149.23 465.8,149.23 466.05,149.24 466.3,149.24 466.55,149.24 466.8,149.24 467.05,149.24 467.3,149.24 467.55,149.24 467.8,149.24 468.05,149.24 468.3,149.24 468.55,149.24 468.8,149.24 469.05,149.24 469.3,149.25 469.55,149.25 469.8,149.25 470.05,149.25 470.3,149.25 470.55,149.25 470.8,149.25 471.05,149.25 471.3,149.25 471.55,149.25 471.8,149.25 472.05,149.25 472.3,149.25 472.55,149.25 472.8,149.25 473.05,149.25 473.3,149.25 473.55,149.25 473.8,149.26 474.05,149.26 474.3,149.26 474.55,149.26 474.8,149.26 475.05,149.26 475.3,149.26"/>
<text x="263.2" y="23.7" font-size="16.3" fill="#222" textLength="22" lengthAdjust="spacingAndGlyphs">(b)</text>
<path d="M280.4,63.6 Q280.4,59.6 282.6,59.6 L296.9,59.6 Q298.1,59.6 298.1,55.2 Q298.1,59.6 299.3,59.6 L313.6,59.6 Q315.8,59.6 315.8,63.6" fill="none" stroke="#3a3a3a" stroke-width="0.95"/>
<text x="298.1" y="51.2" text-anchor="middle" font-size="8.2" fill="#3a3a3a">a</text>
<text x="345" y="123.6" text-anchor="middle" font-size="8.2" fill="#3a3a3a">b</text>
<text x="356.6" y="77.6" text-anchor="middle" font-size="8.2" fill="#3a3a3a">c</text>
<path d="M416.1,101.5 Q416.1,97.5 418.3,97.5 L425.8,97.5 Q427,97.5 427,93.9 Q427,97.5 428.2,97.5 L435.7,97.5 Q437.9,97.5 437.9,101.5" fill="none" stroke="#3a3a3a" stroke-width="0.95"/>
<text x="427" y="89.2" text-anchor="middle" font-size="8.2" fill="#3a3a3a">d</text>
<polygon points="455.35,23.6 451.55,29.66 443.95,29.66 440.15,23.6 443.95,17.54 451.55,17.54" fill="none" stroke="#707070" stroke-width="0.75"/>
<line x1="450.94" y1="18.92" x2="453.75" y2="23.4" stroke="#707070" stroke-width="0.8"/>
<line x1="450.56" y1="28.41" x2="444.94" y2="28.41" stroke="#707070" stroke-width="0.8"/>
<line x1="441.75" y1="23.4" x2="444.56" y2="18.92" stroke="#707070" stroke-width="0.8"/>
<text x="442.25" y="16.2" font-size="8.6" fill="#404040" text-anchor="middle" stroke="#404040" stroke-width="0.22" textLength="4.1" lengthAdjust="spacingAndGlyphs">a</text>
<text x="442.25" y="36.1" font-size="8.6" fill="#404040" text-anchor="middle" stroke="#404040" stroke-width="0.22" textLength="4.1" lengthAdjust="spacingAndGlyphs">a</text>
<text x="453.15" y="16.2" font-size="8.6" fill="#404040" text-anchor="middle" stroke="#404040" stroke-width="0.22" textLength="4.1" lengthAdjust="spacingAndGlyphs">a</text>
<text x="453.15" y="36.1" font-size="8.6" fill="#404040" text-anchor="middle" stroke="#404040" stroke-width="0.22" textLength="4.1" lengthAdjust="spacingAndGlyphs">a</text>
<text x="416.55" y="26.5" font-size="5.6" fill="#404040" text-anchor="start" stroke="#404040" stroke-width="0.22" textLength="4.8" lengthAdjust="spacingAndGlyphs">Cl</text>
<line x1="421.95" y1="24.9" x2="425.55" y2="24.9" stroke="#707070" stroke-width="0.7"/>
<text x="425.75" y="26.5" font-size="5.6" fill="#404040" text-anchor="start" stroke="#404040" stroke-width="0.22" textLength="7" lengthAdjust="spacingAndGlyphs">CH</text>
<text x="433.15" y="28" font-size="3.8" fill="#404040" text-anchor="start" stroke="#404040" stroke-width="0.22">2</text>
<line x1="435.55" y1="24.2" x2="440.15" y2="23.6" stroke="#707070" stroke-width="0.7"/>
<text x="430.15" y="20" font-size="7.4" fill="#3a3a3a" text-anchor="middle" stroke="#3a3a3a" stroke-width="0.22">c</text>
<line x1="455.35" y1="23.6" x2="459.75" y2="23.6" stroke="#707070" stroke-width="0.7"/>
<g transform="translate(462.65,15.4) scale(1)">
<path d="M-3.6,1.7 Q0,-1.5 3.6,1.7" fill="none" stroke="#404040" stroke-width="0.75"/>
<line x1="0" y1="-3.5" x2="0" y2="2.8" stroke="#404040" stroke-width="0.75"/>
<text transform="translate(-2.2,3.2) rotate(90)" font-size="6.3" fill="#404040" stroke="#404040" stroke-width="0.2" textLength="7.2" lengthAdjust="spacingAndGlyphs">CH</text>
<line x1="0" y1="10.7" x2="0" y2="15.8" stroke="#404040" stroke-width="0.75"/>
<text transform="translate(-2.2,16.3) rotate(90)" font-size="6.3" fill="#404040" stroke="#404040" stroke-width="0.2" textLength="7.4" lengthAdjust="spacingAndGlyphs">CH</text>
<text transform="translate(-4.2,24.0) rotate(90)" font-size="4.2" fill="#404040">2</text>
<path d="M-3.6,28.2 Q0,31.4 3.6,28.2" fill="none" stroke="#404040" stroke-width="0.75"/>
<line x1="0" y1="27.2" x2="0" y2="33.4" stroke="#404040" stroke-width="0.75"/>
<text transform="translate(-6.0,30.6) rotate(90)" font-size="4.2" fill="#404040">n</text>
</g>
<polygon points="455.35,58.8 451.55,64.86 443.95,64.86 440.15,58.8 443.95,52.74 451.55,52.74" fill="none" stroke="#707070" stroke-width="0.75"/>
<line x1="450.94" y1="54.12" x2="453.75" y2="58.6" stroke="#707070" stroke-width="0.8"/>
<line x1="450.56" y1="63.61" x2="444.94" y2="63.61" stroke="#707070" stroke-width="0.8"/>
<line x1="441.75" y1="58.6" x2="444.56" y2="54.12" stroke="#707070" stroke-width="0.8"/>
<text x="442.25" y="51.4" font-size="8.6" fill="#404040" text-anchor="middle" stroke="#404040" stroke-width="0.22" textLength="4.1" lengthAdjust="spacingAndGlyphs">a</text>
<text x="442.25" y="71.3" font-size="8.6" fill="#404040" text-anchor="middle" stroke="#404040" stroke-width="0.22" textLength="4.1" lengthAdjust="spacingAndGlyphs">a</text>
<text x="453.15" y="51.4" font-size="8.6" fill="#404040" text-anchor="middle" stroke="#404040" stroke-width="0.22" textLength="4.1" lengthAdjust="spacingAndGlyphs">a</text>
<text x="453.15" y="71.3" font-size="8.6" fill="#404040" text-anchor="middle" stroke="#404040" stroke-width="0.22" textLength="4.1" lengthAdjust="spacingAndGlyphs">a</text>
<polygon points="408.85,58.8 405.05,64.86 397.45,64.86 393.65,58.8 397.45,52.74 405.05,52.74" fill="none" stroke="#707070" stroke-width="0.75"/>
<line x1="404.44" y1="54.12" x2="407.25" y2="58.6" stroke="#707070" stroke-width="0.8"/>
<line x1="404.06" y1="63.61" x2="398.44" y2="63.61" stroke="#707070" stroke-width="0.8"/>
<line x1="395.25" y1="58.6" x2="398.06" y2="54.12" stroke="#707070" stroke-width="0.8"/>
<text x="395.75" y="51.4" font-size="8.6" fill="#404040" text-anchor="middle" stroke="#404040" stroke-width="0.22" textLength="4.1" lengthAdjust="spacingAndGlyphs">a</text>
<text x="395.75" y="71.3" font-size="8.6" fill="#404040" text-anchor="middle" stroke="#404040" stroke-width="0.22" textLength="4.1" lengthAdjust="spacingAndGlyphs">a</text>
<text x="406.65" y="51.4" font-size="8.6" fill="#404040" text-anchor="middle" stroke="#404040" stroke-width="0.22" textLength="4.1" lengthAdjust="spacingAndGlyphs">a</text>
<text x="406.65" y="71.3" font-size="8.6" fill="#404040" text-anchor="middle" stroke="#404040" stroke-width="0.22" textLength="4.1" lengthAdjust="spacingAndGlyphs">a</text>
<polygon points="385.25,58.8 381.45,64.86 373.85,64.86 370.05,58.8 373.85,52.74 381.45,52.74" fill="none" stroke="#707070" stroke-width="0.75"/>
<line x1="380.84" y1="54.12" x2="383.65" y2="58.6" stroke="#707070" stroke-width="0.8"/>
<line x1="380.46" y1="63.61" x2="374.84" y2="63.61" stroke="#707070" stroke-width="0.8"/>
<line x1="371.65" y1="58.6" x2="374.46" y2="54.12" stroke="#707070" stroke-width="0.8"/>
<text x="372.15" y="51.4" font-size="8.6" fill="#404040" text-anchor="middle" stroke="#404040" stroke-width="0.22" textLength="4.1" lengthAdjust="spacingAndGlyphs">a</text>
<text x="372.15" y="71.3" font-size="8.6" fill="#404040" text-anchor="middle" stroke="#404040" stroke-width="0.22" textLength="4.1" lengthAdjust="spacingAndGlyphs">a</text>
<text x="383.05" y="51.4" font-size="8.6" fill="#404040" text-anchor="middle" stroke="#404040" stroke-width="0.22" textLength="4.1" lengthAdjust="spacingAndGlyphs">a</text>
<text x="383.05" y="71.3" font-size="8.6" fill="#404040" text-anchor="middle" stroke="#404040" stroke-width="0.22" textLength="4.1" lengthAdjust="spacingAndGlyphs">a</text>
<line x1="385.25" y1="58.8" x2="393.65" y2="58.8" stroke="#707070" stroke-width="0.7"/>
<line x1="408.85" y1="58.8" x2="414.15" y2="58.8" stroke="#707070" stroke-width="0.7"/>
<text x="416.55" y="61.3" font-size="6.3" fill="#404040" text-anchor="middle" stroke="#404040" stroke-width="0.22">O</text>
<line x1="418.95" y1="58.8" x2="425.15" y2="58.8" stroke="#707070" stroke-width="0.7"/>
<text x="425.45" y="61.1" font-size="5.6" fill="#404040" text-anchor="start" stroke="#404040" stroke-width="0.22" textLength="7" lengthAdjust="spacingAndGlyphs">CH</text>
<text x="432.95" y="62.7" font-size="3.8" fill="#404040" text-anchor="start" stroke="#404040" stroke-width="0.22">2</text>
<line x1="435.35" y1="58.8" x2="440.15" y2="58.8" stroke="#707070" stroke-width="0.7"/>
<text x="430.45" y="53.8" font-size="7.6" fill="#3a3a3a" text-anchor="middle" stroke="#3a3a3a" stroke-width="0.22">b</text>
<line x1="455.35" y1="58.8" x2="459.75" y2="58.8" stroke="#707070" stroke-width="0.7"/>
<g transform="translate(462.65,50.2) scale(1)">
<path d="M-3.6,1.7 Q0,-1.5 3.6,1.7" fill="none" stroke="#404040" stroke-width="0.75"/>
<line x1="0" y1="-3.5" x2="0" y2="2.8" stroke="#404040" stroke-width="0.75"/>
<text transform="translate(-2.2,3.2) rotate(90)" font-size="6.3" fill="#404040" stroke="#404040" stroke-width="0.2" textLength="7.2" lengthAdjust="spacingAndGlyphs">CH</text>
<line x1="0" y1="10.7" x2="0" y2="15.8" stroke="#404040" stroke-width="0.75"/>
<text transform="translate(-2.2,16.3) rotate(90)" font-size="6.3" fill="#404040" stroke="#404040" stroke-width="0.2" textLength="7.4" lengthAdjust="spacingAndGlyphs">CH</text>
<text transform="translate(-4.2,24.0) rotate(90)" font-size="4.2" fill="#404040">2</text>
<path d="M-3.6,28.2 Q0,31.4 3.6,28.2" fill="none" stroke="#404040" stroke-width="0.75"/>
<line x1="0" y1="27.2" x2="0" y2="33.4" stroke="#404040" stroke-width="0.75"/>
<text transform="translate(-6.0,30.6) rotate(90)" font-size="4.2" fill="#404040">n</text>
</g>
<path d="M468.45,19.8 Q473.05,19.2 473.05,22.8 L473.05,45.1 Q473.05,47.1 476.45,47.1 Q473.05,47.1 473.05,49.1 L473.05,71.6 Q473.05,75.2 468.45,74.6" fill="none" stroke="#3a3a3a" stroke-width="1.15"/>
<text x="482.35" y="49.5" font-size="8.5" fill="#3a3a3a" text-anchor="middle" stroke="#3a3a3a" stroke-width="0.1">d</text>
<line x1="517.4" y1="157.6" x2="731.9" y2="157.6" stroke="#6e6e6e" stroke-width="1.4"/>
<line x1="719.52" y1="158.2" x2="719.52" y2="159.9" stroke="#444" stroke-width="1.1"/>
<text x="719.52" y="166.5" text-anchor="middle" font-weight="bold" font-size="7.2" fill="#1a1a1a" stroke="#1a1a1a" stroke-width="0.2">0</text>
<line x1="695.73" y1="158.2" x2="695.73" y2="159.9" stroke="#444" stroke-width="1.1"/>
<text x="695.73" y="166.5" text-anchor="middle" font-weight="bold" font-size="7.2" fill="#1a1a1a" stroke="#1a1a1a" stroke-width="0.2">1</text>
<line x1="671.94" y1="158.2" x2="671.94" y2="159.9" stroke="#444" stroke-width="1.1"/>
<text x="671.94" y="166.5" text-anchor="middle" font-weight="bold" font-size="7.2" fill="#1a1a1a" stroke="#1a1a1a" stroke-width="0.2">2</text>
<line x1="648.15" y1="158.2" x2="648.15" y2="159.9" stroke="#444" stroke-width="1.1"/>
<text x="648.15" y="166.5" text-anchor="middle" font-weight="bold" font-size="7.2" fill="#1a1a1a" stroke="#1a1a1a" stroke-width="0.2">3</text>
<line x1="624.36" y1="158.2" x2="624.36" y2="159.9" stroke="#444" stroke-width="1.1"/>
<text x="624.36" y="166.5" text-anchor="middle" font-weight="bold" font-size="7.2" fill="#1a1a1a" stroke="#1a1a1a" stroke-width="0.2">4</text>
<line x1="600.57" y1="158.2" x2="600.57" y2="159.9" stroke="#444" stroke-width="1.1"/>
<text x="600.57" y="166.5" text-anchor="middle" font-weight="bold" font-size="7.2" fill="#1a1a1a" stroke="#1a1a1a" stroke-width="0.2">5</text>
<line x1="576.78" y1="158.2" x2="576.78" y2="159.9" stroke="#444" stroke-width="1.1"/>
<text x="576.78" y="166.5" text-anchor="middle" font-weight="bold" font-size="7.2" fill="#1a1a1a" stroke="#1a1a1a" stroke-width="0.2">6</text>
<line x1="552.99" y1="158.2" x2="552.99" y2="159.9" stroke="#444" stroke-width="1.1"/>
<text x="552.99" y="166.5" text-anchor="middle" font-weight="bold" font-size="7.2" fill="#1a1a1a" stroke="#1a1a1a" stroke-width="0.2">7</text>
<line x1="529.2" y1="158.2" x2="529.2" y2="159.9" stroke="#444" stroke-width="1.1"/>
<text x="529.2" y="166.5" text-anchor="middle" font-weight="bold" font-size="7.2" fill="#1a1a1a" stroke="#1a1a1a" stroke-width="0.2">8</text>
<text x="586.3" y="176.2" font-weight="bold" font-size="7.6" fill="#1a1a1a" stroke="#1a1a1a" stroke-width="0.25" textLength="76" lengthAdjust="spacingAndGlyphs">Chemical Shift (ppm)</text>
<polyline fill="none" stroke="#1c1c1c" stroke-width="1.2" stroke-linejoin="round" points="517.5,147.53 517.75,147.53 518,147.53 518.25,147.53 518.5,147.53 518.75,147.52 519,147.52 519.25,147.52 519.5,147.52 519.75,147.52 520,147.52 520.25,147.52 520.5,147.52 520.75,147.51 521,147.51 521.25,147.51 521.5,147.51 521.75,147.51 522,147.51 522.25,147.5 522.5,147.5 522.75,147.5 523,147.5 523.25,147.5 523.5,147.5 523.75,147.49 524,147.49 524.25,147.49 524.5,147.49 524.75,147.48 525,147.48 525.25,147.48 525.5,147.48 525.75,147.47 526,147.47 526.25,147.47 526.5,147.47 526.75,147.46 527,147.46 527.25,147.46 527.5,147.45 527.75,147.45 528,147.45 528.25,147.44 528.5,147.44 528.75,147.43 529,147.43 529.25,147.42 529.5,147.42 529.75,147.41 530,147.41 530.25,147.4 530.5,147.39 530.75,147.39 531,147.38 531.25,147.37 531.5,147.36 531.75,147.35 532,147.34 532.25,147.33 532.5,147.32 532.75,147.31 533,147.29 533.25,147.28 533.5,147.26 533.75,147.24 534,147.22 534.25,147.19 534.5,147.16 534.75,147.12 535,147.08 535.25,147.03 535.5,146.96 535.75,146.89 536,146.79 536.25,146.67 536.5,146.53 536.75,146.35 537,146.13 537.25,145.86 537.5,145.52 537.75,145.11 538,144.6 538.25,143.95 538.5,143.14 538.75,142.08 539,140.53 539.25,137.72 539.5,131.19 539.75,116.52 540,91.49 540.25,65.87 540.38,60.71 540.5,64.12 540.75,87.31 541,110.9 541.25,124.3 541.5,129.35 541.75,130.53 542,130.33 542.25,129.34 542.5,126.91 542.75,121.02 543,109.57 543.25,94.81 543.47,87.96 543.5,88.07 543.75,97.73 544,112.39 544.25,122.6 544.5,127.41 544.75,128.87 545,127.75 545.25,122.98 545.5,114.21 545.75,106.06 545.85,105.31 546,108.12 546.25,118.89 546.5,128.75 546.75,128.99 547,50.04 547.04,44.55 547.25,117.2 547.5,139.81 547.75,140.97 548,141.49 548.25,141.65 548.5,141.46 548.75,140.85 549,139.77 549.25,138.12 549.5,135.8 549.75,132.75 550,128.88 550.25,124.2 550.5,118.72 550.75,112.53 551,105.73 551.25,98.35 551.5,90.25 551.75,81.12 552,70.86 552.25,60.7 552.5,55.33 552.51,55.3 552.75,59.37 553,68.92 553.25,78.9 553.5,87.8 553.75,95.64 554,102.73 554.25,109.24 554.5,115.17 554.75,120.42 555,124.91 555.25,128.62 555.5,131.57 555.75,133.82 556,135.48 556.25,136.64 556.5,137.42 556.75,137.9 557,138.19 557.25,138.34 557.5,138.41 557.75,138.44 558,138.46 558.22,138.48 558.25,138.48 558.5,138.51 558.75,138.56 559,138.61 559.25,138.66 559.5,138.69 559.75,138.7 560,138.65 560.25,138.52 560.5,138.28 560.75,137.91 561,137.36 561.25,136.61 561.5,135.64 561.75,134.4 562,132.9 562.25,131.13 562.5,129.08 562.75,126.79 563,124.29 563.25,121.63 563.5,118.89 563.75,116.15 564,113.51 564.25,111.08 564.5,108.96 564.75,107.27 565,106.09 565.25,105.49 565.36,105.42 565.5,105.49 565.75,106.03 566,107.04 566.25,108.37 566.5,109.85 566.75,111.32 567,112.63 567.25,113.72 567.5,114.61 567.75,115.43 568,116.41 568.25,117.81 568.45,119.43 568.5,119.87 568.75,122.64 569,125.95 569.25,129.51 569.5,132.99 569.75,136.17 570,138.87 570.25,141.05 570.5,142.72 570.75,143.94 571,144.8 571.25,145.39 571.5,145.8 571.75,146.09 572,146.29 572.25,146.44 572.5,146.55 572.75,146.64 573,146.72 573.25,146.78 573.5,146.83 573.75,146.88 574,146.91 574.25,146.95 574.5,146.98 574.75,147.01 575,147.04 575.25,147.06 575.5,147.08 575.75,147.11 576,147.12 576.25,147.14 576.5,147.16 576.75,147.17 577,147.19 577.25,147.2 577.5,147.21 577.75,147.22 578,147.24 578.25,147.25 578.5,147.26 578.75,147.26 579,147.27 579.25,147.28 579.5,147.29 579.75,147.29 580,147.3 580.25,147.31 580.5,147.31 580.75,147.32 581,147.32 581.25,147.33 581.5,147.33 581.75,147.34 582,147.34 582.25,147.34 582.5,147.35 582.75,147.35 583,147.35 583.25,147.36 583.5,147.36 583.75,147.36 584,147.36 584.25,147.37 584.5,147.37 584.75,147.37 585,147.37 585.25,147.37 585.5,147.37 585.75,147.37 586,147.37 586.25,147.37 586.5,147.37 586.75,147.37 587,147.37 587.25,147.37 587.5,147.37 587.75,147.37 588,147.37 588.25,147.37 588.5,147.37 588.75,147.36 589,147.36 589.25,147.36 589.5,147.36 589.75,147.35 590,147.35 590.25,147.35 590.5,147.34 590.75,147.34 591,147.33 591.25,147.33 591.5,147.32 591.75,147.32 592,147.31 592.25,147.3 592.5,147.3 592.75,147.29 593,147.28 593.25,147.27 593.5,147.26 593.75,147.24 594,147.23 594.25,147.21 594.5,147.2 594.75,147.18 595,147.16 595.25,147.14 595.5,147.11 595.75,147.08 596,147.05 596.25,147.01 596.5,146.97 596.75,146.92 597,146.87 597.25,146.8 597.5,146.72 597.75,146.63 598,146.49 598.25,146.31 598.5,146.04 598.75,145.63 599,144.99 599.25,144.01 599.5,142.57 599.75,140.55 600,137.87 600.25,134.56 600.5,130.76 600.75,126.79 601,123.14 601.25,120.44 601.5,119.33 601.52,119.32 601.75,120.11 602,122.55 602.25,126.07 602.5,130.01 602.75,133.85 603,137.24 603.25,140.01 603.5,142.12 603.75,143.63 604,144.66 604.25,145.33 604.5,145.76 604.75,146.02 605,146.19 605.25,146.3 605.5,146.37 605.75,146.42 606,146.45 606.25,146.47 606.5,146.48 606.75,146.48 607,146.46 607.25,146.44 607.5,146.41 607.75,146.37 608,146.31 608.25,146.25 608.5,146.16 608.75,146.07 609,145.95 609.25,145.8 609.5,145.62 609.75,145.37 610,145.04 610.25,144.56 610.5,143.84 610.75,142.77 611,141.17 611.25,138.85 611.5,135.59 611.75,131.2 612,125.58 612.25,118.78 612.5,111.06 612.75,102.93 613,95.18 613.25,88.85 613.5,85.05 613.65,84.37 613.75,84.64 614,87.69 614.25,93.53 614.5,101.06 614.75,109.18 615,117.06 615.25,124.12 615.5,130.04 615.75,134.72 616,138.24 616.25,140.77 616.5,142.53 616.75,143.72 617,144.52 617.25,145.06 617.5,145.43 617.75,145.7 618,145.91 618.25,146.08 618.5,146.22 618.75,146.34 619,146.44 619.25,146.53 619.5,146.61 619.75,146.68 620,146.75 620.25,146.8 620.5,146.85 620.75,146.9 621,146.94 621.25,146.98 621.5,147.01 621.75,147.04 622,147.07 622.25,147.09 622.5,147.12 622.75,147.14 623,147.16 623.25,147.18 623.5,147.2 623.75,147.21 624,147.23 624.25,147.24 624.5,147.26 624.75,147.27 625,147.28 625.25,147.29 625.5,147.3 625.75,147.31 626,147.32 626.25,147.33 626.5,147.33 626.75,147.34 627,147.35 627.25,147.35 627.5,147.36 627.75,147.37 628,147.37 628.25,147.38 628.5,147.38 628.75,147.39 629,147.39 629.25,147.39 629.5,147.4 629.75,147.4 630,147.4 630.25,147.41 630.5,147.41 630.75,147.41 631,147.42 631.25,147.42 631.5,147.42 631.75,147.42 632,147.42 632.25,147.43 632.5,147.43 632.75,147.43 633,147.43 633.25,147.43 633.5,147.43 633.75,147.43 634,147.43 634.25,147.43 634.5,147.42 634.75,147.42 635,147.42 635.25,147.41 635.5,147.4 635.75,147.38 636,147.35 636.25,147.25 636.5,143.93 636.73,127.5 636.75,127.76 637,145.43 637.25,147.24 637.5,147.3 637.75,147.31 638,147.3 638.25,147.27 638.5,147.22 638.75,147.12 639,146.9 639.25,146.47 639.5,145.67 639.75,144.42 640,142.83 640.25,141.29 640.5,140.49 640.54,140.48 640.75,140.94 641,142.34 641.25,143.98 641.5,145.35 641.75,146.28 642,146.81 642.25,147.08 642.5,147.21 642.75,147.28 643,147.32 643.25,147.35 643.5,147.37 643.75,147.38 644,147.4 644.25,147.41 644.5,147.42 644.75,147.42 645,147.43 645.25,147.43 645.5,147.44 645.75,147.44 646,147.45 646.25,147.45 646.5,147.45 646.75,147.45 647,147.45 647.25,147.45 647.5,147.45 647.75,147.46 648,147.46 648.25,147.46 648.5,147.46 648.75,147.46 649,147.46 649.25,147.45 649.5,147.45 649.75,147.45 650,147.45 650.25,147.45 650.5,147.45 650.75,147.45 651,147.44 651.25,147.44 651.5,147.44 651.75,147.44 652,147.43 652.25,147.43 652.5,147.43 652.75,147.42 653,147.42 653.25,147.42 653.5,147.41 653.75,147.41 654,147.4 654.25,147.4 654.5,147.39 654.75,147.38 655,147.37 655.25,147.37 655.5,147.36 655.75,147.35 656,147.34 656.25,147.33 656.5,147.32 656.75,147.3 657,147.29 657.25,147.28 657.5,147.26 657.75,147.25 658,147.23 658.25,147.21 658.5,147.19 658.75,147.17 659,147.15 659.25,147.13 659.5,147.1 659.75,147.07 660,147.04 660.25,147.01 660.5,146.98 660.75,146.95 661,146.91 661.25,146.87 661.5,146.83 661.75,146.78 662,146.73 662.25,146.68 662.5,146.62 662.75,146.56 663,146.49 663.25,146.42 663.5,146.32 663.75,146.21 664,146.05 664.25,145.81 664.5,145.45 664.75,144.92 665,144.16 665.25,143.2 665.5,142.08 665.75,140.97 666,140.11 666.23,139.76 666.25,139.75 666.5,140.02 666.75,140.76 667,141.7 667.25,142.61 667.5,143.35 667.75,143.86 668,144.14 668.25,144.19 668.5,144.02 668.75,143.58 669,142.81 669.25,141.65 669.5,140.12 669.75,138.41 670,136.93 670.25,136.19 670.27,136.17 670.5,136.52 670.75,137.69 671,139.18 671.25,140.56 671.5,141.6 671.75,142.27 672,142.62 672.25,142.74 672.5,142.74 672.75,142.67 673,142.56 673.25,142.42 673.5,142.26 673.75,142.06 674,141.83 674.25,141.55 674.5,141.22 674.75,140.82 675,140.34 675.25,139.76 675.5,139.07 675.75,138.26 676,137.31 676.25,136.23 676.5,135.01 676.75,133.66 677,132.21 677.25,130.68 677.5,129.11 677.75,127.56 678,126.08 678.25,124.75 678.5,123.64 678.75,122.82 679,122.34 679.08,122.26 679.25,122.22 679.5,122.45 679.75,122.96 680,123.69 680.25,124.55 680.5,125.44 680.75,126.31 681,127.08 681.25,127.74 681.5,128.24 681.75,128.57 682,128.73 682.25,128.72 682.5,128.53 682.65,128.35 682.75,128.17 683,127.63 683.25,126.89 683.5,125.94 683.75,124.76 684,123.34 684.25,121.68 684.5,119.79 684.75,117.7 685,115.44 685.25,113.08 685.5,110.71 685.75,108.42 686,106.31 686.25,104.51 686.5,103.12 686.75,102.26 687,101.98 687.05,101.99 687.25,102.32 687.5,103.28 687.75,104.81 688,106.83 688.25,109.23 688.5,111.92 688.75,114.78 689,117.73 689.25,120.67 689.5,123.54 689.75,126.26 690,128.8 690.25,131.1 690.5,133.14 690.75,134.88 691,136.32 691.25,137.44 691.5,138.26 691.75,138.8 692,139.13 692.25,139.32 692.5,139.48 692.75,139.73 692.88,139.92 693,140.15 693.25,140.75 693.5,141.49 693.75,142.28 694,143.05 694.25,143.73 694.5,144.32 694.75,144.79 695,145.15 695.25,145.42 695.5,145.62 695.75,145.76 696,145.83 696.25,145.82 696.5,145.68 696.75,145.38 697,144.93 697.25,144.42 697.5,144.06 697.63,144.03 697.75,144.11 698,144.56 698.25,145.19 698.5,145.78 698.75,146.22 699,146.5 699.25,146.67 699.5,146.76 699.75,146.83 700,146.88 700.25,146.92 700.5,146.96 700.75,146.99 701,147.02 701.25,147.05 701.5,147.08 701.75,147.1 702,147.12 702.25,147.14 702.5,147.16 702.75,147.18 703,147.2 703.25,147.22 703.5,147.23 703.75,147.24 704,147.26 704.25,147.27 704.5,147.28 704.75,147.29 705,147.3 705.25,147.31 705.5,147.32 705.75,147.33 706,147.34 706.25,147.35 706.5,147.35 706.75,147.36 707,147.37 707.25,147.37 707.5,147.38 707.75,147.39 708,147.39 708.25,147.4 708.5,147.4 708.75,147.41 709,147.41 709.25,147.42 709.5,147.42 709.75,147.42 710,147.43 710.25,147.43 710.5,147.44 710.75,147.44 711,147.44 711.25,147.45 711.5,147.45 711.75,147.45 712,147.45 712.25,147.46 712.5,147.46 712.75,147.46 713,147.47 713.25,147.47 713.5,147.47 713.75,147.47 714,147.47 714.25,147.48 714.5,147.48 714.75,147.48 715,147.48 715.25,147.48 715.5,147.49 715.75,147.49 716,147.49 716.25,147.49 716.5,147.49 716.75,147.5 717,147.5 717.25,147.5 717.5,147.5 717.75,147.5 718,147.5 718.25,147.5 718.5,147.51 718.75,147.51 719,147.51 719.25,147.51 719.5,147.51 719.75,147.51 720,147.51 720.25,147.51 720.5,147.52 720.75,147.52 721,147.52 721.25,147.52 721.5,147.52 721.75,147.52 722,147.52 722.25,147.52 722.5,147.52 722.75,147.52 723,147.53 723.25,147.53 723.5,147.53 723.75,147.53 724,147.53 724.25,147.53 724.5,147.53 724.75,147.53 725,147.53 725.25,147.53 725.5,147.53 725.75,147.54 726,147.54 726.25,147.54 726.5,147.54 726.75,147.54 727,147.54 727.25,147.54 727.5,147.54 727.75,147.54 728,147.54 728.25,147.54 728.5,147.54 728.75,147.54 729,147.54 729.25,147.54 729.5,147.54 729.75,147.55 730,147.55 730.25,147.55 730.5,147.55 730.75,147.55 731,147.55 731.25,147.55 731.5,147.55"/>
<text x="519.8" y="23.7" font-size="16.3" fill="#222" textLength="18.8" lengthAdjust="spacingAndGlyphs">(c)</text>
<path d="M533.8,39.1 Q533.8,35.1 536,35.1 L551.55,35.1 Q552.75,35.1 552.75,31.1 Q552.75,35.1 553.95,35.1 L569.5,35.1 Q571.7,35.1 571.7,39.1" fill="none" stroke="#3a3a3a" stroke-width="0.95"/>
<text x="552.75" y="27.4" text-anchor="middle" font-size="8.2" fill="#3a3a3a">a</text>
<text x="601.5" y="114" text-anchor="middle" font-size="8.2" fill="#3a3a3a">b</text>
<text x="613.5" y="80.5" text-anchor="middle" font-size="8.2" fill="#3a3a3a">c</text>
<path d="M674,101.1 Q674,97.1 676.2,97.1 L683.5,97.1 Q684.7,97.1 684.7,93 Q684.7,97.1 685.9,97.1 L693.2,97.1 Q695.4,97.1 695.4,101.1" fill="none" stroke="#3a3a3a" stroke-width="0.95"/>
<text x="684.7" y="89.6" text-anchor="middle" font-size="8.2" fill="#3a3a3a">d</text>
<polygon points="710.7,20.3 706.9,26.36 699.3,26.36 695.5,20.3 699.3,14.24 706.9,14.24" fill="none" stroke="#707070" stroke-width="0.75"/>
<line x1="706.29" y1="15.62" x2="709.1" y2="20.1" stroke="#707070" stroke-width="0.8"/>
<line x1="705.91" y1="25.11" x2="700.29" y2="25.11" stroke="#707070" stroke-width="0.8"/>
<line x1="697.1" y1="20.1" x2="699.91" y2="15.62" stroke="#707070" stroke-width="0.8"/>
<text x="697.6" y="12.9" font-size="8.6" fill="#404040" text-anchor="middle" stroke="#404040" stroke-width="0.22" textLength="4.1" lengthAdjust="spacingAndGlyphs">a</text>
<text x="697.6" y="32.8" font-size="8.6" fill="#404040" text-anchor="middle" stroke="#404040" stroke-width="0.22" textLength="4.1" lengthAdjust="spacingAndGlyphs">a</text>
<text x="708.5" y="12.9" font-size="8.6" fill="#404040" text-anchor="middle" stroke="#404040" stroke-width="0.22" textLength="4.1" lengthAdjust="spacingAndGlyphs">a</text>
<text x="708.5" y="32.8" font-size="8.6" fill="#404040" text-anchor="middle" stroke="#404040" stroke-width="0.22" textLength="4.1" lengthAdjust="spacingAndGlyphs">a</text>
<text x="671.9" y="23.2" font-size="5.6" fill="#404040" text-anchor="start" stroke="#404040" stroke-width="0.22" textLength="4.8" lengthAdjust="spacingAndGlyphs">Cl</text>
<line x1="677.3" y1="21.6" x2="680.9" y2="21.6" stroke="#707070" stroke-width="0.7"/>
<text x="681.1" y="23.2" font-size="5.6" fill="#404040" text-anchor="start" stroke="#404040" stroke-width="0.22" textLength="7" lengthAdjust="spacingAndGlyphs">CH</text>
<text x="688.5" y="24.7" font-size="3.8" fill="#404040" text-anchor="start" stroke="#404040" stroke-width="0.22">2</text>
<line x1="690.9" y1="20.9" x2="695.5" y2="20.3" stroke="#707070" stroke-width="0.7"/>
<text x="685.5" y="16.7" font-size="7.4" fill="#3a3a3a" text-anchor="middle" stroke="#3a3a3a" stroke-width="0.22">c</text>
<line x1="710.7" y1="20.3" x2="715.1" y2="20.3" stroke="#707070" stroke-width="0.7"/>
<g transform="translate(718,12.1) scale(1)">
<path d="M-3.6,1.7 Q0,-1.5 3.6,1.7" fill="none" stroke="#404040" stroke-width="0.75"/>
<line x1="0" y1="-3.5" x2="0" y2="2.8" stroke="#404040" stroke-width="0.75"/>
<text transform="translate(-2.2,3.2) rotate(90)" font-size="6.3" fill="#404040" stroke="#404040" stroke-width="0.2" textLength="7.2" lengthAdjust="spacingAndGlyphs">CH</text>
<line x1="0" y1="10.7" x2="0" y2="15.8" stroke="#404040" stroke-width="0.75"/>
<text transform="translate(-2.2,16.3) rotate(90)" font-size="6.3" fill="#404040" stroke="#404040" stroke-width="0.2" textLength="7.4" lengthAdjust="spacingAndGlyphs">CH</text>
<text transform="translate(-4.2,24.0) rotate(90)" font-size="4.2" fill="#404040">2</text>
<path d="M-3.6,28.2 Q0,31.4 3.6,28.2" fill="none" stroke="#404040" stroke-width="0.75"/>
<line x1="0" y1="27.2" x2="0" y2="33.4" stroke="#404040" stroke-width="0.75"/>
<text transform="translate(-6.0,30.6) rotate(90)" font-size="4.2" fill="#404040">n</text>
</g>
<polygon points="710.7,55.5 706.9,61.56 699.3,61.56 695.5,55.5 699.3,49.44 706.9,49.44" fill="none" stroke="#707070" stroke-width="0.75"/>
<line x1="706.29" y1="50.82" x2="709.1" y2="55.3" stroke="#707070" stroke-width="0.8"/>
<line x1="705.91" y1="60.31" x2="700.29" y2="60.31" stroke="#707070" stroke-width="0.8"/>
<line x1="697.1" y1="55.3" x2="699.91" y2="50.82" stroke="#707070" stroke-width="0.8"/>
<text x="697.6" y="48.1" font-size="8.6" fill="#404040" text-anchor="middle" stroke="#404040" stroke-width="0.22" textLength="4.1" lengthAdjust="spacingAndGlyphs">a</text>
<text x="697.6" y="68" font-size="8.6" fill="#404040" text-anchor="middle" stroke="#404040" stroke-width="0.22" textLength="4.1" lengthAdjust="spacingAndGlyphs">a</text>
<text x="708.5" y="48.1" font-size="8.6" fill="#404040" text-anchor="middle" stroke="#404040" stroke-width="0.22" textLength="4.1" lengthAdjust="spacingAndGlyphs">a</text>
<text x="708.5" y="68" font-size="8.6" fill="#404040" text-anchor="middle" stroke="#404040" stroke-width="0.22" textLength="4.1" lengthAdjust="spacingAndGlyphs">a</text>
<polygon points="664.2,55.5 660.4,61.56 652.8,61.56 649,55.5 652.8,49.44 660.4,49.44" fill="none" stroke="#707070" stroke-width="0.75"/>
<line x1="659.79" y1="50.82" x2="662.6" y2="55.3" stroke="#707070" stroke-width="0.8"/>
<line x1="659.41" y1="60.31" x2="653.79" y2="60.31" stroke="#707070" stroke-width="0.8"/>
<line x1="650.6" y1="55.3" x2="653.41" y2="50.82" stroke="#707070" stroke-width="0.8"/>
<text x="651.1" y="48.1" font-size="8.6" fill="#404040" text-anchor="middle" stroke="#404040" stroke-width="0.22" textLength="4.1" lengthAdjust="spacingAndGlyphs">a</text>
<text x="651.1" y="68" font-size="8.6" fill="#404040" text-anchor="middle" stroke="#404040" stroke-width="0.22" textLength="4.1" lengthAdjust="spacingAndGlyphs">a</text>
<text x="662" y="48.1" font-size="8.6" fill="#404040" text-anchor="middle" stroke="#404040" stroke-width="0.22" textLength="4.1" lengthAdjust="spacingAndGlyphs">a</text>
<text x="662" y="68" font-size="8.6" fill="#404040" text-anchor="middle" stroke="#404040" stroke-width="0.22" textLength="4.1" lengthAdjust="spacingAndGlyphs">a</text>
<polygon points="640.6,55.5 636.8,61.56 629.2,61.56 625.4,55.5 629.2,49.44 636.8,49.44" fill="none" stroke="#707070" stroke-width="0.75"/>
<line x1="636.19" y1="50.82" x2="639" y2="55.3" stroke="#707070" stroke-width="0.8"/>
<line x1="635.81" y1="60.31" x2="630.19" y2="60.31" stroke="#707070" stroke-width="0.8"/>
<line x1="627" y1="55.3" x2="629.81" y2="50.82" stroke="#707070" stroke-width="0.8"/>
<text x="627.5" y="48.1" font-size="8.6" fill="#404040" text-anchor="middle" stroke="#404040" stroke-width="0.22" textLength="4.1" lengthAdjust="spacingAndGlyphs">a</text>
<text x="627.5" y="68" font-size="8.6" fill="#404040" text-anchor="middle" stroke="#404040" stroke-width="0.22" textLength="4.1" lengthAdjust="spacingAndGlyphs">a</text>
<text x="638.4" y="48.1" font-size="8.6" fill="#404040" text-anchor="middle" stroke="#404040" stroke-width="0.22" textLength="4.1" lengthAdjust="spacingAndGlyphs">a</text>
<text x="638.4" y="68" font-size="8.6" fill="#404040" text-anchor="middle" stroke="#404040" stroke-width="0.22" textLength="4.1" lengthAdjust="spacingAndGlyphs">a</text>
<line x1="640.6" y1="55.5" x2="649" y2="55.5" stroke="#707070" stroke-width="0.7"/>
<line x1="664.2" y1="55.5" x2="669.5" y2="55.5" stroke="#707070" stroke-width="0.7"/>
<text x="671.9" y="58" font-size="6.3" fill="#404040" text-anchor="middle" stroke="#404040" stroke-width="0.22">O</text>
<line x1="674.3" y1="55.5" x2="680.5" y2="55.5" stroke="#707070" stroke-width="0.7"/>
<text x="680.8" y="57.8" font-size="5.6" fill="#404040" text-anchor="start" stroke="#404040" stroke-width="0.22" textLength="7" lengthAdjust="spacingAndGlyphs">CH</text>
<text x="688.3" y="59.4" font-size="3.8" fill="#404040" text-anchor="start" stroke="#404040" stroke-width="0.22">2</text>
<line x1="690.7" y1="55.5" x2="695.5" y2="55.5" stroke="#707070" stroke-width="0.7"/>
<text x="685.8" y="50.5" font-size="7.6" fill="#3a3a3a" text-anchor="middle" stroke="#3a3a3a" stroke-width="0.22">b</text>
<line x1="710.7" y1="55.5" x2="715.1" y2="55.5" stroke="#707070" stroke-width="0.7"/>
<g transform="translate(718,46.9) scale(1)">
<path d="M-3.6,1.7 Q0,-1.5 3.6,1.7" fill="none" stroke="#404040" stroke-width="0.75"/>
<line x1="0" y1="-3.5" x2="0" y2="2.8" stroke="#404040" stroke-width="0.75"/>
<text transform="translate(-2.2,3.2) rotate(90)" font-size="6.3" fill="#404040" stroke="#404040" stroke-width="0.2" textLength="7.2" lengthAdjust="spacingAndGlyphs">CH</text>
<line x1="0" y1="10.7" x2="0" y2="15.8" stroke="#404040" stroke-width="0.75"/>
<text transform="translate(-2.2,16.3) rotate(90)" font-size="6.3" fill="#404040" stroke="#404040" stroke-width="0.2" textLength="7.4" lengthAdjust="spacingAndGlyphs">CH</text>
<text transform="translate(-4.2,24.0) rotate(90)" font-size="4.2" fill="#404040">2</text>
<path d="M-3.6,28.2 Q0,31.4 3.6,28.2" fill="none" stroke="#404040" stroke-width="0.75"/>
<line x1="0" y1="27.2" x2="0" y2="33.4" stroke="#404040" stroke-width="0.75"/>
<text transform="translate(-6.0,30.6) rotate(90)" font-size="4.2" fill="#404040">n</text>
</g>
<path d="M723.8,16.5 Q728.4,15.9 728.4,19.5 L728.4,41.8 Q728.4,43.8 731.8,43.8 Q728.4,43.8 728.4,45.8 L728.4,68.3 Q728.4,71.9 723.8,71.3" fill="none" stroke="#3a3a3a" stroke-width="1.15"/>
<text x="737.7" y="46.2" font-size="8.5" fill="#3a3a3a" text-anchor="middle" stroke="#3a3a3a" stroke-width="0.1">d</text>
<line x1="5" y1="351.5" x2="219.5" y2="351.5" stroke="#6e6e6e" stroke-width="1.4"/>
<line x1="207.5" y1="352.1" x2="207.5" y2="353.8" stroke="#444" stroke-width="1.1"/>
<text x="207.5" y="360.4" text-anchor="middle" font-weight="bold" font-size="7.2" fill="#1a1a1a" stroke="#1a1a1a" stroke-width="0.2">0</text>
<line x1="183.62" y1="352.1" x2="183.62" y2="353.8" stroke="#444" stroke-width="1.1"/>
<text x="183.62" y="360.4" text-anchor="middle" font-weight="bold" font-size="7.2" fill="#1a1a1a" stroke="#1a1a1a" stroke-width="0.2">1</text>
<line x1="159.75" y1="352.1" x2="159.75" y2="353.8" stroke="#444" stroke-width="1.1"/>
<text x="159.75" y="360.4" text-anchor="middle" font-weight="bold" font-size="7.2" fill="#1a1a1a" stroke="#1a1a1a" stroke-width="0.2">2</text>
<line x1="135.88" y1="352.1" x2="135.88" y2="353.8" stroke="#444" stroke-width="1.1"/>
<text x="135.88" y="360.4" text-anchor="middle" font-weight="bold" font-size="7.2" fill="#1a1a1a" stroke="#1a1a1a" stroke-width="0.2">3</text>
<line x1="112" y1="352.1" x2="112" y2="353.8" stroke="#444" stroke-width="1.1"/>
<text x="112" y="360.4" text-anchor="middle" font-weight="bold" font-size="7.2" fill="#1a1a1a" stroke="#1a1a1a" stroke-width="0.2">4</text>
<line x1="88.12" y1="352.1" x2="88.12" y2="353.8" stroke="#444" stroke-width="1.1"/>
<text x="88.12" y="360.4" text-anchor="middle" font-weight="bold" font-size="7.2" fill="#1a1a1a" stroke="#1a1a1a" stroke-width="0.2">5</text>
<line x1="64.25" y1="352.1" x2="64.25" y2="353.8" stroke="#444" stroke-width="1.1"/>
<text x="64.25" y="360.4" text-anchor="middle" font-weight="bold" font-size="7.2" fill="#1a1a1a" stroke="#1a1a1a" stroke-width="0.2">6</text>
<line x1="40.38" y1="352.1" x2="40.38" y2="353.8" stroke="#444" stroke-width="1.1"/>
<text x="40.38" y="360.4" text-anchor="middle" font-weight="bold" font-size="7.2" fill="#1a1a1a" stroke="#1a1a1a" stroke-width="0.2">7</text>
<line x1="16.5" y1="352.1" x2="16.5" y2="353.8" stroke="#444" stroke-width="1.1"/>
<text x="16.5" y="360.4" text-anchor="middle" font-weight="bold" font-size="7.2" fill="#1a1a1a" stroke="#1a1a1a" stroke-width="0.2">8</text>
<text x="74.2" y="369.9" font-weight="bold" font-size="7.6" fill="#1a1a1a" stroke="#1a1a1a" stroke-width="0.25" textLength="76" lengthAdjust="spacingAndGlyphs">Chemical Shift (ppm)</text>
<polyline fill="none" stroke="#1c1c1c" stroke-width="1.2" stroke-linejoin="round" points="5.2,342.14 5.45,342.14 5.7,342.14 5.95,342.14 6.2,342.14 6.45,342.14 6.7,342.14 6.95,342.14 7.2,342.14 7.45,342.14 7.7,342.13 7.95,342.13 8.2,342.13 8.45,342.13 8.7,342.13 8.95,342.13 9.2,342.13 9.45,342.13 9.7,342.12 9.95,342.12 10.2,342.12 10.45,342.12 10.7,342.12 10.95,342.12 11.2,342.12 11.45,342.11 11.7,342.11 11.95,342.11 12.2,342.11 12.45,342.11 12.7,342.11 12.95,342.1 13.2,342.1 13.45,342.1 13.7,342.1 13.95,342.09 14.2,342.09 14.45,342.09 14.7,342.09 14.95,342.08 15.2,342.08 15.45,342.08 15.7,342.07 15.95,342.07 16.2,342.07 16.45,342.06 16.7,342.06 16.95,342.06 17.2,342.05 17.45,342.05 17.7,342.04 17.95,342.04 18.2,342.03 18.45,342.03 18.7,342.02 18.95,342.01 19.2,342.01 19.45,342 19.7,341.99 19.95,341.98 20.2,341.97 20.45,341.97 20.7,341.96 20.95,341.94 21.2,341.93 21.45,341.92 21.7,341.9 21.95,341.89 22.2,341.87 22.45,341.85 22.7,341.83 22.95,341.81 23.2,341.78 23.45,341.75 23.7,341.72 23.95,341.68 24.2,341.64 24.45,341.59 24.7,341.53 24.95,341.46 25.2,341.37 25.45,341.26 25.7,341.13 25.95,340.96 26.2,340.75 26.45,340.47 26.7,340.1 26.95,339.58 27.2,338.73 27.45,336.98 27.7,332.87 27.95,323.7 28.2,306.75 28.45,282.7 28.7,259.37 28.91,250.61 28.95,250.74 29.2,263.45 29.45,286.79 29.7,307.79 29.95,320.83 30.2,326.55 30.45,327.84 30.7,326.74 30.95,323.44 31.2,316.51 31.45,304.34 31.7,288.31 31.95,276.37 32.02,275.47 32.2,279.22 32.45,292.87 32.7,306.21 32.95,314.67 33.2,318.79 33.21,318.93 33.45,320.64 33.7,321.64 33.95,322.16 34.2,304.48 34.41,245.84 34.45,251.17 34.7,320.83 34.95,326.9 35.2,328.41 35.45,329.76 35.7,331.01 35.95,332.17 36.2,333.2 36.45,334.08 36.7,334.74 36.95,335.15 37.2,335.21 37.45,334.87 37.7,334.03 37.95,332.6 38.2,330.5 38.45,327.66 38.7,324.06 38.95,319.72 39.2,314.71 39.45,309.09 39.7,302.86 39.95,295.88 40.2,288.01 40.45,279.53 40.7,272.49 40.85,270.92 40.95,271.5 41.2,277.37 41.45,285.55 41.7,293.37 41.95,300.3 42.2,306.45 42.45,311.99 42.7,316.97 42.95,321.32 43.2,324.98 43.45,327.94 43.7,330.23 43.95,331.9 44.2,333.06 44.45,333.8 44.7,334.22 44.95,334.4 45.2,334.41 45.45,334.31 45.7,334.14 45.95,333.93 46.2,333.69 46.45,333.42 46.7,333.13 46.95,332.81 47.06,332.66 47.2,332.46 47.45,332.06 47.7,331.6 47.95,331.06 48.2,330.44 48.45,329.71 48.7,328.86 48.95,327.89 49.2,326.79 49.45,325.56 49.7,324.22 49.95,322.78 50.2,321.27 50.45,319.72 50.7,318.16 50.95,316.65 51.2,315.25 51.45,313.99 51.7,312.95 51.95,312.17 52.2,311.71 52.45,311.59 52.55,311.64 52.7,311.83 52.95,312.44 53.2,313.39 53.45,314.64 53.7,316.15 53.95,317.87 54.2,319.73 54.45,321.67 54.7,323.65 54.95,325.62 55.2,327.53 55.45,329.35 55.7,331.06 55.95,332.63 56.2,334.05 56.45,335.31 56.7,336.42 56.95,337.38 57.2,338.2 57.45,338.88 57.7,339.46 57.95,339.93 58.2,340.31 58.45,340.62 58.7,340.87 58.95,341.06 59.2,341.22 59.45,341.34 59.7,341.44 59.95,341.51 60.2,341.58 60.45,341.62 60.7,341.67 60.95,341.7 61.2,341.73 61.45,341.75 61.7,341.77 61.95,341.79 62.2,341.81 62.45,341.82 62.7,341.84 62.95,341.85 63.2,341.86 63.45,341.87 63.7,341.89 63.95,341.9 64.2,341.9 64.45,341.91 64.7,341.92 64.95,341.93 65.2,341.94 65.45,341.94 65.7,341.95 65.95,341.96 66.2,341.96 66.45,341.97 66.7,341.97 66.95,341.98 67.2,341.98 67.45,341.98 67.7,341.99 67.95,341.99 68.2,342 68.45,342 68.7,342 68.95,342 69.2,342.01 69.45,342.01 69.7,342.01 69.95,342.01 70.2,342.02 70.45,342.02 70.7,342.02 70.95,342.02 71.2,342.02 71.45,342.02 71.7,342.02 71.95,342.02 72.2,342.03 72.45,342.03 72.7,342.03 72.95,342.03 73.2,342.03 73.45,342.03 73.7,342.03 73.95,342.03 74.2,342.03 74.45,342.03 74.7,342.02 74.95,342.02 75.2,342.02 75.45,342.02 75.7,342.02 75.95,342.02 76.2,342.02 76.45,342.01 76.7,342.01 76.95,342.01 77.2,342.01 77.45,342 77.7,342 77.95,342 78.2,341.99 78.45,341.99 78.7,341.99 78.95,341.98 79.2,341.98 79.45,341.97 79.7,341.96 79.95,341.96 80.2,341.95 80.45,341.94 80.7,341.93 80.95,341.92 81.2,341.91 81.45,341.9 81.7,341.89 81.95,341.88 82.2,341.87 82.45,341.85 82.7,341.83 82.95,341.81 83.2,341.79 83.45,341.77 83.7,341.75 83.95,341.72 84.2,341.69 84.45,341.65 84.7,341.61 84.95,341.57 85.2,341.52 85.45,341.46 85.7,341.39 85.95,341.31 86.2,341.21 86.45,341.09 86.7,340.94 86.95,340.72 87.2,340.39 87.45,339.91 87.7,339.18 87.95,338.08 88.2,336.49 88.45,334.26 88.7,331.29 88.95,327.58 89.2,323.23 89.45,318.49 89.7,313.81 89.95,309.81 90.2,307.21 90.39,306.56 90.45,306.61 90.7,308.17 90.95,311.48 91.2,315.87 91.45,320.63 91.7,325.23 91.95,329.31 92.2,332.67 92.45,335.28 92.7,337.2 92.95,338.54 93.2,339.44 93.45,340.04 93.7,340.42 93.95,340.68 94.2,340.85 94.45,340.97 94.7,341.06 94.95,341.13 95.2,341.18 95.45,341.22 95.7,341.25 95.95,341.26 96.2,341.27 96.45,341.26 96.7,341.25 96.95,341.23 97.2,341.19 97.45,341.13 97.7,341.05 97.95,340.92 98.2,340.74 98.45,340.45 98.7,340.01 98.95,339.33 99.2,338.31 99.45,336.86 99.7,334.89 99.95,332.36 100.2,329.3 100.45,325.86 100.7,322.31 100.95,319.06 101.2,316.64 101.45,315.56 101.5,315.53 101.7,316.09 101.95,318.09 102.2,321.11 102.45,324.62 102.7,328.15 102.95,331.39 103.2,334.13 103.45,336.32 103.7,337.96 103.95,339.13 104.2,339.94 104.45,340.48 104.7,340.83 104.95,341.07 105.2,341.23 105.45,341.35 105.7,341.44 105.95,341.51 106.2,341.57 106.45,341.62 106.7,341.67 106.95,341.71 107.2,341.74 107.45,341.77 107.7,341.8 107.95,341.82 108.2,341.85 108.45,341.87 108.7,341.88 108.95,341.9 109.2,341.92 109.45,341.93 109.7,341.94 109.95,341.95 110.2,341.96 110.45,341.97 110.7,341.98 110.95,341.99 111.2,342 111.45,342 111.7,342.01 111.95,342.02 112.2,342.02 112.45,342.03 112.7,342.03 112.95,342.04 113.2,342.04 113.45,342.05 113.7,342.05 113.95,342.06 114.2,342.06 114.45,342.06 114.7,342.07 114.95,342.07 115.2,342.07 115.45,342.07 115.7,342.08 115.95,342.08 116.2,342.08 116.45,342.08 116.7,342.08 116.95,342.09 117.2,342.09 117.45,342.09 117.7,342.09 117.95,342.09 118.2,342.09 118.45,342.09 118.7,342.1 118.95,342.1 119.2,342.1 119.45,342.1 119.7,342.1 119.95,342.1 120.2,342.1 120.45,342.1 120.7,342.1 120.95,342.1 121.2,342.1 121.45,342.1 121.7,342.1 121.95,342.1 122.2,342.09 122.45,342.09 122.7,342.09 122.95,342.08 123.2,342.07 123.45,342.06 123.7,342.03 123.95,341.94 124.2,338.57 124.42,326.08 124.45,326.75 124.7,340.82 124.95,341.96 125.2,342.01 125.45,342.02 125.7,342.01 125.95,342 126.2,341.98 126.45,341.94 126.7,341.86 126.95,341.7 127.2,341.37 127.45,340.78 127.7,339.88 127.95,338.73 128.2,337.66 128.45,337.13 128.47,337.13 128.7,337.5 128.95,338.51 129.2,339.67 129.45,340.64 129.7,341.29 129.95,341.66 130.2,341.85 130.45,341.94 130.7,341.98 130.95,342.01 131.2,342.03 131.45,342.05 131.7,342.06 131.95,342.07 132.2,342.08 132.45,342.08 132.7,342.09 132.95,342.09 133.2,342.09 133.45,342.1 133.7,342.1 133.95,342.1 134.2,342.1 134.45,342.1 134.7,342.11 134.95,342.11 135.2,342.11 135.45,342.11 135.7,342.11 135.95,342.11 136.2,342.11 136.45,342.11 136.7,342.11 136.95,342.11 137.2,342.11 137.45,342.11 137.7,342.11 137.95,342.1 138.2,342.1 138.45,342.1 138.7,342.1 138.95,342.1 139.2,342.1 139.45,342.1 139.7,342.09 139.95,342.09 140.2,342.09 140.45,342.09 140.7,342.08 140.95,342.08 141.2,342.08 141.45,342.07 141.7,342.07 141.95,342.06 142.2,342.06 142.45,342.05 142.7,342.05 142.95,342.04 143.2,342.04 143.45,342.03 143.7,342.02 143.95,342.01 144.2,342.01 144.45,342 144.7,341.99 144.95,341.98 145.2,341.96 145.45,341.95 145.7,341.94 145.95,341.92 146.2,341.91 146.45,341.89 146.7,341.88 146.95,341.86 147.2,341.84 147.45,341.82 147.7,341.8 147.95,341.77 148.2,341.75 148.45,341.72 148.7,341.69 148.95,341.66 149.2,341.62 149.45,341.59 149.7,341.55 149.95,341.51 150.2,341.46 150.45,341.41 150.7,341.35 150.95,341.28 151.2,341.19 151.45,341.08 151.7,340.9 151.95,340.63 152.2,340.22 152.45,339.62 152.7,338.83 152.95,337.86 153.2,336.84 153.45,335.95 153.7,335.43 153.78,335.38 153.95,335.47 154.2,336.01 154.45,336.85 154.7,337.74 154.95,338.52 155.2,339.11 155.45,339.51 155.7,339.72 155.95,339.81 156.2,339.81 156.45,339.74 156.7,339.6 156.95,339.38 157.2,338.99 157.45,338.37 157.7,337.43 157.95,336.17 158.2,334.7 158.45,333.31 158.7,332.44 158.79,332.34 158.95,332.47 159.2,333.33 159.45,334.6 159.7,335.86 159.95,336.88 160.2,337.57 160.45,337.95 160.7,338.12 160.95,338.14 161.2,338.09 161.45,337.99 161.7,337.84 161.95,337.65 162.2,337.4 162.45,337.08 162.7,336.68 162.95,336.17 163.2,335.53 163.45,334.77 163.7,333.88 163.95,332.87 164.2,331.76 164.45,330.6 164.7,329.45 164.95,328.38 165.2,327.49 165.45,326.87 165.7,326.6 165.72,326.6 165.95,326.71 166.2,327.18 166.45,327.92 166.7,328.86 166.91,329.72 166.95,329.88 167.2,330.9 167.45,331.87 167.7,332.72 167.95,333.42 168.2,333.96 168.45,334.32 168.7,334.5 168.95,334.5 169.2,334.32 169.45,333.98 169.7,333.47 169.95,332.79 170.2,331.95 170.45,330.93 170.7,329.75 170.95,328.42 171.2,326.93 171.45,325.32 171.7,323.6 171.95,321.8 172.2,319.98 172.45,318.17 172.7,316.45 172.95,314.86 173.2,313.49 173.45,312.41 173.7,311.67 173.95,311.32 174.07,311.31 174.2,311.4 174.45,311.9 174.7,312.8 174.95,314.04 175.2,315.56 175.45,317.3 175.7,319.18 175.95,321.13 176.2,323.11 176.45,325.04 176.7,326.9 176.95,328.65 177.2,330.25 177.45,331.69 177.7,332.94 177.95,333.99 178.2,334.83 178.45,335.46 178.7,335.89 178.95,336.14 179.2,336.26 179.45,336.31 179.7,336.36 179.95,336.5 180.04,336.59 180.2,336.79 180.45,337.22 180.7,337.75 180.95,338.33 181.2,338.88 181.45,339.38 181.7,339.8 181.95,340.14 182.2,340.4 182.45,340.6 182.7,340.75 182.95,340.87 183.2,340.96 183.45,341.03 183.7,341.09 183.95,341.12 184.2,341.12 184.45,341.06 184.7,340.9 184.95,340.61 185.2,340.2 185.45,339.79 185.7,339.56 185.77,339.55 185.95,339.67 186.2,340.07 186.45,340.57 186.7,341.01 186.95,341.32 187.2,341.51 187.45,341.62 187.7,341.69 187.95,341.73 188.2,341.76 188.45,341.79 188.7,341.81 188.95,341.84 189.2,341.85 189.45,341.87 189.7,341.89 189.95,341.9 190.2,341.92 190.45,341.93 190.7,341.94 190.95,341.95 191.2,341.96 191.45,341.97 191.7,341.98 191.95,341.99 192.2,342 192.45,342.01 192.7,342.01 192.95,342.02 193.2,342.03 193.45,342.03 193.7,342.04 193.95,342.04 194.2,342.05 194.45,342.05 194.7,342.06 194.95,342.06 195.2,342.07 195.45,342.07 195.7,342.07 195.95,342.08 196.2,342.08 196.45,342.08 196.7,342.09 196.95,342.09 197.2,342.09 197.45,342.09 197.7,342.1 197.95,342.1 198.2,342.1 198.45,342.1 198.7,342.11 198.95,342.11 199.2,342.11 199.45,342.11 199.7,342.11 199.95,342.11 200.2,342.12 200.45,342.12 200.7,342.12 200.95,342.12 201.2,342.12 201.45,342.12 201.7,342.12 201.95,342.13 202.2,342.13 202.45,342.13 202.7,342.13 202.95,342.13 203.2,342.13 203.45,342.13 203.7,342.13 203.95,342.14 204.2,342.14 204.45,342.14 204.7,342.14 204.95,342.14 205.2,342.14 205.45,342.14 205.7,342.14 205.95,342.14 206.2,342.14 206.45,342.14 206.7,342.14 206.95,342.15 207.2,342.15 207.45,342.15 207.7,342.15 207.95,342.15 208.2,342.15 208.45,342.15 208.7,342.15 208.95,342.15 209.2,342.15 209.45,342.15 209.7,342.15 209.95,342.15 210.2,342.15 210.45,342.15 210.7,342.16 210.95,342.16 211.2,342.16 211.45,342.16 211.7,342.16 211.95,342.16 212.2,342.16 212.45,342.16 212.7,342.16 212.95,342.16 213.2,342.16 213.45,342.16 213.7,342.16 213.95,342.16 214.2,342.16 214.45,342.16 214.7,342.16 214.95,342.16 215.2,342.16 215.45,342.16 215.7,342.16 215.95,342.16 216.2,342.17 216.45,342.17 216.7,342.17 216.95,342.17 217.2,342.17 217.45,342.17 217.7,342.17 217.95,342.17 218.2,342.17 218.45,342.17 218.7,342.17"/>
<text x="7.9" y="226.8" font-size="16.3" fill="#222" textLength="22" lengthAdjust="spacingAndGlyphs">(d)</text>
<path d="M24.1,238.9 Q24.1,234.9 26.3,234.9 L41.2,234.9 Q42.4,234.9 42.4,231.4 Q42.4,234.9 43.6,234.9 L58.5,234.9 Q60.7,234.9 60.7,238.9" fill="none" stroke="#3a3a3a" stroke-width="0.95"/>
<text x="42.4" y="227.6" text-anchor="middle" font-size="8.2" fill="#3a3a3a">a</text>
<text x="90.4" y="302.6" text-anchor="middle" font-size="8.2" fill="#3a3a3a">b</text>
<text x="101.4" y="311.4" text-anchor="middle" font-size="8.2" fill="#3a3a3a">c</text>
<path d="M157.6,308.5 Q157.6,304.5 159.8,304.5 L167.1,304.5 Q168.3,304.5 168.3,300.4 Q168.3,304.5 169.5,304.5 L176.8,304.5 Q179,304.5 179,308.5" fill="none" stroke="#3a3a3a" stroke-width="0.95"/>
<text x="168.3" y="297.1" text-anchor="middle" font-size="8.2" fill="#3a3a3a">d</text>
<polygon points="193.45,222.2 189.65,228.26 182.05,228.26 178.25,222.2 182.05,216.14 189.65,216.14" fill="none" stroke="#707070" stroke-width="0.75"/>
<line x1="189.04" y1="217.52" x2="191.85" y2="222" stroke="#707070" stroke-width="0.8"/>
<line x1="188.66" y1="227.01" x2="183.04" y2="227.01" stroke="#707070" stroke-width="0.8"/>
<line x1="179.85" y1="222" x2="182.66" y2="217.52" stroke="#707070" stroke-width="0.8"/>
<text x="180.35" y="214.8" font-size="8.6" fill="#404040" text-anchor="middle" stroke="#404040" stroke-width="0.22" textLength="4.1" lengthAdjust="spacingAndGlyphs">a</text>
<text x="180.35" y="234.7" font-size="8.6" fill="#404040" text-anchor="middle" stroke="#404040" stroke-width="0.22" textLength="4.1" lengthAdjust="spacingAndGlyphs">a</text>
<text x="191.25" y="214.8" font-size="8.6" fill="#404040" text-anchor="middle" stroke="#404040" stroke-width="0.22" textLength="4.1" lengthAdjust="spacingAndGlyphs">a</text>
<text x="191.25" y="234.7" font-size="8.6" fill="#404040" text-anchor="middle" stroke="#404040" stroke-width="0.22" textLength="4.1" lengthAdjust="spacingAndGlyphs">a</text>
<text x="154.65" y="225.1" font-size="5.6" fill="#404040" text-anchor="start" stroke="#404040" stroke-width="0.22" textLength="4.8" lengthAdjust="spacingAndGlyphs">Cl</text>
<line x1="160.05" y1="223.5" x2="163.65" y2="223.5" stroke="#707070" stroke-width="0.7"/>
<text x="163.85" y="225.1" font-size="5.6" fill="#404040" text-anchor="start" stroke="#404040" stroke-width="0.22" textLength="7" lengthAdjust="spacingAndGlyphs">CH</text>
<text x="171.25" y="226.6" font-size="3.8" fill="#404040" text-anchor="start" stroke="#404040" stroke-width="0.22">2</text>
<line x1="173.65" y1="222.8" x2="178.25" y2="222.2" stroke="#707070" stroke-width="0.7"/>
<text x="168.25" y="218.6" font-size="7.4" fill="#3a3a3a" text-anchor="middle" stroke="#3a3a3a" stroke-width="0.22">c</text>
<line x1="193.45" y1="222.2" x2="197.85" y2="222.2" stroke="#707070" stroke-width="0.7"/>
<g transform="translate(200.75,214) scale(1)">
<path d="M-3.6,1.7 Q0,-1.5 3.6,1.7" fill="none" stroke="#404040" stroke-width="0.75"/>
<line x1="0" y1="-3.5" x2="0" y2="2.8" stroke="#404040" stroke-width="0.75"/>
<text transform="translate(-2.2,3.2) rotate(90)" font-size="6.3" fill="#404040" stroke="#404040" stroke-width="0.2" textLength="7.2" lengthAdjust="spacingAndGlyphs">CH</text>
<line x1="0" y1="10.7" x2="0" y2="15.8" stroke="#404040" stroke-width="0.75"/>
<text transform="translate(-2.2,16.3) rotate(90)" font-size="6.3" fill="#404040" stroke="#404040" stroke-width="0.2" textLength="7.4" lengthAdjust="spacingAndGlyphs">CH</text>
<text transform="translate(-4.2,24.0) rotate(90)" font-size="4.2" fill="#404040">2</text>
<path d="M-3.6,28.2 Q0,31.4 3.6,28.2" fill="none" stroke="#404040" stroke-width="0.75"/>
<line x1="0" y1="27.2" x2="0" y2="33.4" stroke="#404040" stroke-width="0.75"/>
<text transform="translate(-6.0,30.6) rotate(90)" font-size="4.2" fill="#404040">n</text>
</g>
<polygon points="193.45,257.4 189.65,263.46 182.05,263.46 178.25,257.4 182.05,251.34 189.65,251.34" fill="none" stroke="#707070" stroke-width="0.75"/>
<line x1="189.04" y1="252.72" x2="191.85" y2="257.2" stroke="#707070" stroke-width="0.8"/>
<line x1="188.66" y1="262.21" x2="183.04" y2="262.21" stroke="#707070" stroke-width="0.8"/>
<line x1="179.85" y1="257.2" x2="182.66" y2="252.72" stroke="#707070" stroke-width="0.8"/>
<text x="180.35" y="250" font-size="8.6" fill="#404040" text-anchor="middle" stroke="#404040" stroke-width="0.22" textLength="4.1" lengthAdjust="spacingAndGlyphs">a</text>
<text x="180.35" y="269.9" font-size="8.6" fill="#404040" text-anchor="middle" stroke="#404040" stroke-width="0.22" textLength="4.1" lengthAdjust="spacingAndGlyphs">a</text>
<text x="191.25" y="250" font-size="8.6" fill="#404040" text-anchor="middle" stroke="#404040" stroke-width="0.22" textLength="4.1" lengthAdjust="spacingAndGlyphs">a</text>
<text x="191.25" y="269.9" font-size="8.6" fill="#404040" text-anchor="middle" stroke="#404040" stroke-width="0.22" textLength="4.1" lengthAdjust="spacingAndGlyphs">a</text>
<polygon points="146.95,257.4 143.15,263.46 135.55,263.46 131.75,257.4 135.55,251.34 143.15,251.34" fill="none" stroke="#707070" stroke-width="0.75"/>
<line x1="142.54" y1="252.72" x2="145.35" y2="257.2" stroke="#707070" stroke-width="0.8"/>
<line x1="142.16" y1="262.21" x2="136.54" y2="262.21" stroke="#707070" stroke-width="0.8"/>
<line x1="133.35" y1="257.2" x2="136.16" y2="252.72" stroke="#707070" stroke-width="0.8"/>
<text x="133.85" y="250" font-size="8.6" fill="#404040" text-anchor="middle" stroke="#404040" stroke-width="0.22" textLength="4.1" lengthAdjust="spacingAndGlyphs">a</text>
<text x="133.85" y="269.9" font-size="8.6" fill="#404040" text-anchor="middle" stroke="#404040" stroke-width="0.22" textLength="4.1" lengthAdjust="spacingAndGlyphs">a</text>
<text x="144.75" y="250" font-size="8.6" fill="#404040" text-anchor="middle" stroke="#404040" stroke-width="0.22" textLength="4.1" lengthAdjust="spacingAndGlyphs">a</text>
<text x="144.75" y="269.9" font-size="8.6" fill="#404040" text-anchor="middle" stroke="#404040" stroke-width="0.22" textLength="4.1" lengthAdjust="spacingAndGlyphs">a</text>
<polygon points="123.35,257.4 119.55,263.46 111.95,263.46 108.15,257.4 111.95,251.34 119.55,251.34" fill="none" stroke="#707070" stroke-width="0.75"/>
<line x1="118.94" y1="252.72" x2="121.75" y2="257.2" stroke="#707070" stroke-width="0.8"/>
<line x1="118.56" y1="262.21" x2="112.94" y2="262.21" stroke="#707070" stroke-width="0.8"/>
<line x1="109.75" y1="257.2" x2="112.56" y2="252.72" stroke="#707070" stroke-width="0.8"/>
<text x="110.25" y="250" font-size="8.6" fill="#404040" text-anchor="middle" stroke="#404040" stroke-width="0.22" textLength="4.1" lengthAdjust="spacingAndGlyphs">a</text>
<text x="110.25" y="269.9" font-size="8.6" fill="#404040" text-anchor="middle" stroke="#404040" stroke-width="0.22" textLength="4.1" lengthAdjust="spacingAndGlyphs">a</text>
<text x="121.15" y="250" font-size="8.6" fill="#404040" text-anchor="middle" stroke="#404040" stroke-width="0.22" textLength="4.1" lengthAdjust="spacingAndGlyphs">a</text>
<text x="121.15" y="269.9" font-size="8.6" fill="#404040" text-anchor="middle" stroke="#404040" stroke-width="0.22" textLength="4.1" lengthAdjust="spacingAndGlyphs">a</text>
<line x1="123.35" y1="257.4" x2="131.75" y2="257.4" stroke="#707070" stroke-width="0.7"/>
<line x1="146.95" y1="257.4" x2="152.25" y2="257.4" stroke="#707070" stroke-width="0.7"/>
<text x="154.65" y="259.9" font-size="6.3" fill="#404040" text-anchor="middle" stroke="#404040" stroke-width="0.22">O</text>
<line x1="157.05" y1="257.4" x2="163.25" y2="257.4" stroke="#707070" stroke-width="0.7"/>
<text x="163.55" y="259.7" font-size="5.6" fill="#404040" text-anchor="start" stroke="#404040" stroke-width="0.22" textLength="7" lengthAdjust="spacingAndGlyphs">CH</text>
<text x="171.05" y="261.3" font-size="3.8" fill="#404040" text-anchor="start" stroke="#404040" stroke-width="0.22">2</text>
<line x1="173.45" y1="257.4" x2="178.25" y2="257.4" stroke="#707070" stroke-width="0.7"/>
<text x="168.55" y="252.4" font-size="7.6" fill="#3a3a3a" text-anchor="middle" stroke="#3a3a3a" stroke-width="0.22">b</text>
<line x1="193.45" y1="257.4" x2="197.85" y2="257.4" stroke="#707070" stroke-width="0.7"/>
<g transform="translate(200.75,248.8) scale(1)">
<path d="M-3.6,1.7 Q0,-1.5 3.6,1.7" fill="none" stroke="#404040" stroke-width="0.75"/>
<line x1="0" y1="-3.5" x2="0" y2="2.8" stroke="#404040" stroke-width="0.75"/>
<text transform="translate(-2.2,3.2) rotate(90)" font-size="6.3" fill="#404040" stroke="#404040" stroke-width="0.2" textLength="7.2" lengthAdjust="spacingAndGlyphs">CH</text>
<line x1="0" y1="10.7" x2="0" y2="15.8" stroke="#404040" stroke-width="0.75"/>
<text transform="translate(-2.2,16.3) rotate(90)" font-size="6.3" fill="#404040" stroke="#404040" stroke-width="0.2" textLength="7.4" lengthAdjust="spacingAndGlyphs">CH</text>
<text transform="translate(-4.2,24.0) rotate(90)" font-size="4.2" fill="#404040">2</text>
<path d="M-3.6,28.2 Q0,31.4 3.6,28.2" fill="none" stroke="#404040" stroke-width="0.75"/>
<line x1="0" y1="27.2" x2="0" y2="33.4" stroke="#404040" stroke-width="0.75"/>
<text transform="translate(-6.0,30.6) rotate(90)" font-size="4.2" fill="#404040">n</text>
</g>
<path d="M206.55,218.4 Q211.15,217.8 211.15,221.4 L211.15,243.7 Q211.15,245.7 214.55,245.7 Q211.15,245.7 211.15,247.7 L211.15,270.2 Q211.15,273.8 206.55,273.2" fill="none" stroke="#3a3a3a" stroke-width="1.15"/>
<text x="220.45" y="248.1" font-size="8.5" fill="#3a3a3a" text-anchor="middle" stroke="#3a3a3a" stroke-width="0.1">d</text>
<line x1="273.1" y1="352.7" x2="487.7" y2="352.7" stroke="#6e6e6e" stroke-width="1.4"/>
<line x1="475.6" y1="353.3" x2="475.6" y2="355" stroke="#444" stroke-width="1.1"/>
<text x="475.6" y="361.6" text-anchor="middle" font-weight="bold" font-size="7.2" fill="#1a1a1a" stroke="#1a1a1a" stroke-width="0.2">0</text>
<line x1="451.8" y1="353.3" x2="451.8" y2="355" stroke="#444" stroke-width="1.1"/>
<text x="451.8" y="361.6" text-anchor="middle" font-weight="bold" font-size="7.2" fill="#1a1a1a" stroke="#1a1a1a" stroke-width="0.2">1</text>
<line x1="428" y1="353.3" x2="428" y2="355" stroke="#444" stroke-width="1.1"/>
<text x="428" y="361.6" text-anchor="middle" font-weight="bold" font-size="7.2" fill="#1a1a1a" stroke="#1a1a1a" stroke-width="0.2">2</text>
<line x1="404.2" y1="353.3" x2="404.2" y2="355" stroke="#444" stroke-width="1.1"/>
<text x="404.2" y="361.6" text-anchor="middle" font-weight="bold" font-size="7.2" fill="#1a1a1a" stroke="#1a1a1a" stroke-width="0.2">3</text>
<line x1="380.4" y1="353.3" x2="380.4" y2="355" stroke="#444" stroke-width="1.1"/>
<text x="380.4" y="361.6" text-anchor="middle" font-weight="bold" font-size="7.2" fill="#1a1a1a" stroke="#1a1a1a" stroke-width="0.2">4</text>
<line x1="356.6" y1="353.3" x2="356.6" y2="355" stroke="#444" stroke-width="1.1"/>
<text x="356.6" y="361.6" text-anchor="middle" font-weight="bold" font-size="7.2" fill="#1a1a1a" stroke="#1a1a1a" stroke-width="0.2">5</text>
<line x1="332.8" y1="353.3" x2="332.8" y2="355" stroke="#444" stroke-width="1.1"/>
<text x="332.8" y="361.6" text-anchor="middle" font-weight="bold" font-size="7.2" fill="#1a1a1a" stroke="#1a1a1a" stroke-width="0.2">6</text>
<line x1="309" y1="353.3" x2="309" y2="355" stroke="#444" stroke-width="1.1"/>
<text x="309" y="361.6" text-anchor="middle" font-weight="bold" font-size="7.2" fill="#1a1a1a" stroke="#1a1a1a" stroke-width="0.2">7</text>
<line x1="285.2" y1="353.3" x2="285.2" y2="355" stroke="#444" stroke-width="1.1"/>
<text x="285.2" y="361.6" text-anchor="middle" font-weight="bold" font-size="7.2" fill="#1a1a1a" stroke="#1a1a1a" stroke-width="0.2">8</text>
<text x="342.5" y="371.6" font-weight="bold" font-size="7.6" fill="#1a1a1a" stroke="#1a1a1a" stroke-width="0.25" textLength="76" lengthAdjust="spacingAndGlyphs">Chemical Shift (ppm)</text>
<polyline fill="none" stroke="#1c1c1c" stroke-width="1.2" stroke-linejoin="round" points="273.2,343.36 273.45,343.36 273.7,343.36 273.95,343.36 274.2,343.36 274.45,343.36 274.7,343.36 274.95,343.36 275.2,343.36 275.45,343.36 275.7,343.36 275.95,343.36 276.2,343.36 276.45,343.36 276.7,343.35 276.95,343.35 277.2,343.35 277.45,343.35 277.7,343.35 277.95,343.35 278.2,343.35 278.45,343.35 278.7,343.35 278.95,343.35 279.2,343.35 279.45,343.35 279.7,343.34 279.95,343.34 280.2,343.34 280.45,343.34 280.7,343.34 280.95,343.34 281.2,343.34 281.45,343.34 281.7,343.33 281.95,343.33 282.2,343.33 282.45,343.33 282.7,343.33 282.95,343.33 283.2,343.33 283.45,343.32 283.7,343.32 283.95,343.32 284.2,343.32 284.45,343.32 284.7,343.31 284.95,343.31 285.2,343.31 285.45,343.31 285.7,343.31 285.95,343.3 286.2,343.3 286.45,343.3 286.7,343.29 286.95,343.29 287.2,343.29 287.45,343.28 287.7,343.28 287.95,343.28 288.2,343.27 288.45,343.27 288.7,343.26 288.95,343.26 289.2,343.25 289.45,343.25 289.7,343.24 289.95,343.24 290.2,343.23 290.45,343.22 290.7,343.22 290.95,343.21 291.2,343.2 291.45,343.19 291.7,343.18 291.95,343.17 292.2,343.15 292.45,343.14 292.7,343.13 292.95,343.11 293.2,343.09 293.45,343.07 293.7,343.04 293.95,343.02 294.2,342.99 294.45,342.95 294.7,342.91 294.95,342.86 295.2,342.8 295.45,342.73 295.7,342.64 295.95,342.53 296.2,342.39 296.45,342.21 296.7,341.96 296.95,341.56 297.2,340.74 297.45,338.72 297.7,333.76 297.95,323.51 298.2,307.09 298.45,288.22 298.7,276.2 298.77,275.49 298.95,279.69 299.2,295.47 299.45,313.09 299.7,325.59 299.95,331.46 300.2,331.7 300.45,326.45 300.7,315.17 300.95,301.21 301.15,295.75 301.2,296.02 301.45,305.48 301.7,318.06 301.95,326.02 302.2,328.42 302.45,290.74 302.57,263.1 302.7,291.73 302.95,330.05 303.05,330.89 303.2,331.26 303.45,331.68 303.7,332.07 303.95,332.47 304.2,332.84 304.45,333.12 304.7,333.19 304.95,332.88 305.2,332.06 305.45,330.59 305.7,328.46 305.95,325.78 306.2,322.89 306.45,320.33 306.7,318.77 306.86,318.58 306.95,318.8 307.2,320.47 307.45,323.25 307.7,326.36 307.95,329.1 308.2,330.95 308.45,331.55 308.7,330.74 308.95,328.54 309.2,325.13 309.45,320.82 309.7,316 309.95,311.19 310.2,307.17 310.43,305.57 310.45,305.58 310.7,307.67 310.95,311.85 311.2,316.72 311.45,321.6 311.7,326.12 311.95,329.99 312.2,333.06 312.45,335.32 312.7,336.86 312.95,337.81 313.2,338.34 313.45,338.58 313.7,338.64 313.95,338.58 314.2,338.44 314.45,338.24 314.7,338 314.95,337.71 315.2,337.38 315.45,337 315.7,336.57 315.95,336.08 316.2,335.55 316.45,334.96 316.7,334.32 316.95,333.64 317.2,332.93 317.45,332.19 317.7,331.45 317.95,330.7 318.2,329.99 318.45,329.32 318.7,328.72 318.95,328.21 319.2,327.81 319.45,327.54 319.7,327.42 319.95,327.45 319.95,327.45 320.2,327.64 320.45,327.99 320.7,328.49 320.95,329.11 321.2,329.85 321.45,330.67 321.7,331.55 321.95,332.48 322.2,333.43 322.45,334.37 322.7,335.3 322.95,336.19 323.2,337.04 323.45,337.83 323.7,338.57 323.95,339.23 324.2,339.83 324.45,340.35 324.7,340.82 324.95,341.22 325.2,341.56 325.45,341.85 325.7,342.09 325.95,342.3 326.2,342.46 326.45,342.6 326.7,342.71 326.95,342.8 327.2,342.87 327.45,342.93 327.7,342.98 327.95,343.02 328.2,343.05 328.45,343.07 328.7,343.09 328.95,343.11 329.2,343.13 329.45,343.14 329.7,343.15 329.95,343.16 330.2,343.17 330.45,343.18 330.7,343.19 330.95,343.2 331.2,343.2 331.45,343.21 331.7,343.21 331.95,343.22 332.2,343.22 332.45,343.23 332.7,343.23 332.95,343.24 333.2,343.24 333.45,343.25 333.7,343.25 333.95,343.25 334.2,343.26 334.45,343.26 334.7,343.26 334.95,343.27 335.2,343.27 335.45,343.27 335.7,343.27 335.95,343.28 336.2,343.28 336.45,343.28 336.7,343.28 336.95,343.28 337.2,343.28 337.45,343.29 337.7,343.29 337.95,343.29 338.2,343.29 338.45,343.29 338.7,343.29 338.95,343.29 339.2,343.29 339.45,343.3 339.7,343.3 339.95,343.3 340.2,343.3 340.45,343.3 340.7,343.3 340.95,343.3 341.2,343.3 341.45,343.3 341.7,343.3 341.95,343.3 342.2,343.3 342.45,343.3 342.7,343.3 342.95,343.3 343.2,343.3 343.45,343.3 343.7,343.3 343.95,343.3 344.2,343.3 344.45,343.3 344.7,343.3 344.95,343.29 345.2,343.29 345.45,343.29 345.7,343.29 345.95,343.29 346.2,343.29 346.45,343.29 346.7,343.28 346.95,343.28 347.2,343.28 347.45,343.28 347.7,343.27 347.95,343.27 348.2,343.27 348.45,343.26 348.7,343.26 348.95,343.26 349.2,343.25 349.45,343.25 349.7,343.24 349.95,343.24 350.2,343.23 350.45,343.22 350.7,343.22 350.95,343.21 351.2,343.2 351.45,343.19 351.7,343.18 351.95,343.17 352.2,343.16 352.45,343.14 352.7,343.13 352.95,343.11 353.2,343.09 353.45,343.07 353.7,343.04 353.95,343.01 354.2,342.98 354.45,342.95 354.7,342.91 354.95,342.86 355.2,342.8 355.45,342.73 355.7,342.64 355.95,342.52 356.2,342.35 356.45,342.1 356.7,341.72 356.95,341.12 357.2,340.21 357.45,338.87 357.7,337 357.95,334.53 358.2,331.49 358.45,328.01 358.7,324.4 358.95,321.12 359.2,318.75 359.45,317.85 359.46,317.85 359.7,318.67 359.95,320.98 360.2,324.23 360.45,327.83 360.7,331.32 360.95,334.38 361.2,336.88 361.45,338.78 361.7,340.14 361.95,341.06 362.2,341.67 362.45,342.06 362.7,342.31 362.95,342.48 363.2,342.59 363.45,342.68 363.7,342.75 363.95,342.8 364.2,342.84 364.45,342.88 364.7,342.91 364.95,342.93 365.2,342.95 365.45,342.96 365.7,342.97 365.95,342.97 366.2,342.96 366.45,342.95 366.7,342.91 366.95,342.87 367.2,342.79 367.45,342.69 367.7,342.55 367.95,342.36 368.2,342.13 368.45,341.84 368.7,341.5 368.95,341.11 369.2,340.68 369.45,340.24 369.7,339.81 369.95,339.42 370.2,339.12 370.45,338.94 370.64,338.9 370.7,338.9 370.95,339.02 371.2,339.27 371.45,339.62 371.7,340.04 371.95,340.49 372.2,340.93 372.45,341.35 372.7,341.73 372.95,342.06 373.2,342.33 373.45,342.55 373.7,342.73 373.95,342.86 374.2,342.96 374.45,343.04 374.7,343.09 374.95,343.14 375.2,343.17 375.45,343.19 375.7,343.21 375.95,343.22 376.2,343.23 376.45,343.24 376.7,343.25 376.95,343.26 377.2,343.27 377.45,343.27 377.7,343.28 377.95,343.29 378.2,343.29 378.45,343.29 378.7,343.3 378.95,343.3 379.2,343.31 379.45,343.31 379.7,343.31 379.95,343.32 380.2,343.32 380.45,343.32 380.7,343.32 380.95,343.32 381.2,343.33 381.45,343.33 381.7,343.33 381.95,343.33 382.2,343.33 382.45,343.34 382.7,343.34 382.95,343.34 383.2,343.34 383.45,343.34 383.7,343.34 383.95,343.34 384.2,343.34 384.45,343.34 384.7,343.35 384.95,343.35 385.2,343.35 385.45,343.35 385.7,343.35 385.95,343.35 386.2,343.35 386.45,343.35 386.7,343.35 386.95,343.35 387.2,343.35 387.45,343.35 387.7,343.35 387.95,343.35 388.2,343.35 388.45,343.35 388.7,343.35 388.95,343.35 389.2,343.35 389.45,343.35 389.7,343.35 389.95,343.35 390.2,343.35 390.45,343.35 390.7,343.35 390.95,343.35 391.2,343.34 391.45,343.34 391.7,343.33 391.95,343.3 392.2,343.05 392.45,336.47 392.54,334.35 392.7,339.64 392.95,343.23 393.2,343.31 393.45,343.32 393.7,343.33 393.95,343.33 394.2,343.33 394.45,343.33 394.7,343.33 394.95,343.32 395.2,343.32 395.45,343.31 395.7,343.29 395.95,343.28 396.2,343.24 396.45,343.16 396.7,343.01 396.95,342.73 397.2,342.28 397.45,341.7 397.7,341.12 397.95,340.78 398.01,340.77 398.2,340.9 398.45,341.4 398.7,342.01 398.95,342.53 399.2,342.89 399.45,343.1 399.7,343.21 399.95,343.26 400.2,343.29 400.45,343.3 400.7,343.31 400.95,343.32 401.2,343.33 401.45,343.33 401.7,343.34 401.95,343.34 402.2,343.34 402.45,343.34 402.7,343.35 402.95,343.35 403.2,343.35 403.45,343.35 403.7,343.35 403.95,343.35 404.2,343.35 404.45,343.35 404.7,343.35 404.95,343.35 405.2,343.35 405.45,343.35 405.7,343.35 405.95,343.35 406.2,343.35 406.45,343.35 406.7,343.35 406.95,343.35 407.2,343.35 407.45,343.34 407.7,343.34 407.95,343.34 408.2,343.34 408.45,343.34 408.7,343.34 408.95,343.33 409.2,343.33 409.45,343.33 409.7,343.33 409.95,343.32 410.2,343.32 410.45,343.32 410.7,343.31 410.95,343.31 411.2,343.3 411.45,343.3 411.7,343.29 411.95,343.29 412.2,343.28 412.45,343.27 412.7,343.27 412.95,343.26 413.2,343.25 413.45,343.24 413.7,343.23 413.95,343.22 414.2,343.21 414.45,343.2 414.7,343.18 414.95,343.17 415.2,343.16 415.45,343.14 415.7,343.12 415.95,343.1 416.2,343.09 416.45,343.07 416.7,343.04 416.95,343.02 417.2,342.99 417.45,342.97 417.7,342.94 417.95,342.91 418.2,342.88 418.45,342.84 418.7,342.8 418.95,342.76 419.2,342.71 419.45,342.65 419.7,342.57 419.95,342.48 420.2,342.34 420.45,342.16 420.7,341.92 420.95,341.6 421.2,341.22 421.45,340.77 421.7,340.3 421.95,339.85 422.2,339.48 422.45,339.26 422.53,339.24 422.7,339.25 422.95,339.42 423.2,339.72 423.45,340.07 423.7,340.43 423.95,340.73 424.2,340.98 424.45,341.15 424.7,341.24 424.95,341.27 425.2,341.25 425.45,341.18 425.7,341.05 425.95,340.88 426.2,340.64 426.45,340.34 426.7,339.97 426.95,339.55 427.2,339.11 427.45,338.69 427.7,338.35 427.95,338.15 428,338.13 428.2,338.11 428.45,338.23 428.7,338.45 428.95,338.69 429.2,338.91 429.45,339.07 429.7,339.14 429.95,339.1 430.2,338.97 430.45,338.73 430.7,338.41 430.95,338.01 431.2,337.56 431.45,337.07 431.7,336.57 431.95,336.11 432.2,335.71 432.45,335.41 432.7,335.25 432.76,335.24 432.95,335.25 433.2,335.4 433.45,335.68 433.7,336.03 433.95,336.44 434.2,336.85 434.45,337.24 434.7,337.59 434.95,337.87 435.14,338.03 435.2,338.07 435.45,338.19 435.7,338.21 435.95,338.11 436.2,337.89 436.45,337.54 436.7,337.06 436.95,336.45 437.2,335.75 437.45,334.97 437.7,334.17 437.95,333.41 438.2,332.77 438.45,332.31 438.47,332.28 438.7,332.05 438.95,331.96 439.2,331.96 439.45,331.97 439.7,331.92 439.95,331.76 440.2,331.46 440.45,331.04 440.7,330.52 440.95,329.96 441.2,329.41 441.45,328.94 441.7,328.64 441.95,328.55 442.04,328.58 442.2,328.71 442.45,329.12 442.7,329.77 442.95,330.61 443.2,331.58 443.45,332.64 443.7,333.71 443.95,334.77 444.2,335.77 444.45,336.69 444.7,337.49 444.95,338.16 445.2,338.69 445.45,339.08 445.7,339.32 445.95,339.45 446.2,339.48 446.45,339.47 446.7,339.47 446.95,339.53 447.04,339.58 447.2,339.7 447.45,339.97 447.7,340.31 447.95,340.68 448.2,341.04 448.45,341.37 448.7,341.65 448.95,341.88 449.2,342.06 449.45,342.19 449.7,342.3 449.95,342.38 450.2,342.45 450.45,342.51 450.7,342.56 450.95,342.6 451.2,342.63 451.45,342.65 451.7,342.64 451.95,342.58 452.2,342.44 452.45,342.21 452.7,341.89 452.95,341.6 453.2,341.46 453.23,341.46 453.45,341.59 453.7,341.92 453.95,342.29 454.2,342.61 454.45,342.82 454.7,342.95 454.95,343.03 455.2,343.07 455.45,343.1 455.7,343.13 455.95,343.15 456.2,343.16 456.45,343.18 456.7,343.19 456.95,343.21 457.2,343.22 457.45,343.23 457.7,343.24 457.95,343.25 458.2,343.26 458.45,343.26 458.7,343.27 458.95,343.28 459.2,343.29 459.45,343.29 459.7,343.3 459.95,343.3 460.2,343.31 460.45,343.31 460.7,343.32 460.95,343.32 461.2,343.32 461.45,343.33 461.7,343.33 461.95,343.33 462.2,343.33 462.45,343.34 462.7,343.34 462.95,343.34 463.2,343.34 463.45,343.35 463.7,343.35 463.95,343.35 464.2,343.35 464.45,343.35 464.7,343.35 464.95,343.35 465.2,343.36 465.45,343.36 465.7,343.36 465.95,343.36 466.2,343.36 466.45,343.36 466.7,343.36 466.95,343.36 467.2,343.36 467.45,343.36 467.7,343.37 467.95,343.37 468.2,343.37 468.45,343.37 468.7,343.37 468.95,343.37 469.2,343.37 469.45,343.37 469.7,343.37 469.95,343.37 470.2,343.37 470.45,343.37 470.7,343.37 470.95,343.37 471.2,343.37 471.45,343.37 471.7,343.37 471.95,343.37 472.2,343.37 472.45,343.38 472.7,343.38 472.95,343.38 473.2,343.38 473.45,343.38 473.7,343.38 473.95,343.38 474.2,343.38 474.45,343.38 474.7,343.38 474.95,343.38 475.2,343.38 475.45,343.38 475.7,343.38 475.95,343.38 476.2,343.38 476.45,343.38 476.7,343.38 476.95,343.38 477.2,343.38 477.45,343.38 477.7,343.38 477.95,343.38 478.2,343.38 478.45,343.38 478.7,343.38 478.95,343.38 479.2,343.38 479.45,343.38 479.7,343.38 479.95,343.38 480.2,343.38 480.45,343.38 480.7,343.38 480.95,343.38 481.2,343.38 481.45,343.38 481.7,343.38 481.95,343.38 482.2,343.38 482.45,343.38 482.7,343.38 482.95,343.39 483.2,343.39 483.45,343.39 483.7,343.39 483.95,343.39 484.2,343.39 484.45,343.39 484.7,343.39 484.95,343.39 485.2,343.39 485.45,343.39 485.7,343.39 485.95,343.39 486.2,343.39 486.45,343.39 486.7,343.39 486.95,343.39 487.2,343.39 487.45,343.39"/>
<text x="263.4" y="226.8" font-size="16.3" fill="#222" textLength="20.5" lengthAdjust="spacingAndGlyphs">(e)</text>
<path d="M291,256.4 Q291,252.4 293.2,252.4 L308.15,252.4 Q309.35,252.4 309.35,248.8 Q309.35,252.4 310.55,252.4 L325.5,252.4 Q327.7,252.4 327.7,256.4" fill="none" stroke="#3a3a3a" stroke-width="0.95"/>
<text x="309.35" y="244.4" text-anchor="middle" font-size="8.2" fill="#3a3a3a">a</text>
<text x="359.3" y="312.3" text-anchor="middle" font-size="8.2" fill="#3a3a3a">b</text>
<text x="370.3" y="334.3" text-anchor="middle" font-size="8.2" fill="#3a3a3a">c</text>
<path d="M428.2,326.3 Q428.2,322.3 430.4,322.3 L437.6,322.3 Q438.8,322.3 438.8,318 Q438.8,322.3 440,322.3 L447.2,322.3 Q449.4,322.3 449.4,326.3" fill="none" stroke="#3a3a3a" stroke-width="0.95"/>
<text x="438.8" y="314.2" text-anchor="middle" font-size="8.2" fill="#3a3a3a">d</text>
<polygon points="463.35,227.4 459.55,233.46 451.95,233.46 448.15,227.4 451.95,221.34 459.55,221.34" fill="none" stroke="#707070" stroke-width="0.75"/>
<line x1="458.94" y1="222.72" x2="461.75" y2="227.2" stroke="#707070" stroke-width="0.8"/>
<line x1="458.56" y1="232.21" x2="452.94" y2="232.21" stroke="#707070" stroke-width="0.8"/>
<line x1="449.75" y1="227.2" x2="452.56" y2="222.72" stroke="#707070" stroke-width="0.8"/>
<text x="450.25" y="220" font-size="8.6" fill="#404040" text-anchor="middle" stroke="#404040" stroke-width="0.22" textLength="4.1" lengthAdjust="spacingAndGlyphs">a</text>
<text x="450.25" y="239.9" font-size="8.6" fill="#404040" text-anchor="middle" stroke="#404040" stroke-width="0.22" textLength="4.1" lengthAdjust="spacingAndGlyphs">a</text>
<text x="461.15" y="220" font-size="8.6" fill="#404040" text-anchor="middle" stroke="#404040" stroke-width="0.22" textLength="4.1" lengthAdjust="spacingAndGlyphs">a</text>
<text x="461.15" y="239.9" font-size="8.6" fill="#404040" text-anchor="middle" stroke="#404040" stroke-width="0.22" textLength="4.1" lengthAdjust="spacingAndGlyphs">a</text>
<text x="424.55" y="230.3" font-size="5.6" fill="#404040" text-anchor="start" stroke="#404040" stroke-width="0.22" textLength="4.8" lengthAdjust="spacingAndGlyphs">Cl</text>
<line x1="429.95" y1="228.7" x2="433.55" y2="228.7" stroke="#707070" stroke-width="0.7"/>
<text x="433.75" y="230.3" font-size="5.6" fill="#404040" text-anchor="start" stroke="#404040" stroke-width="0.22" textLength="7" lengthAdjust="spacingAndGlyphs">CH</text>
<text x="441.15" y="231.8" font-size="3.8" fill="#404040" text-anchor="start" stroke="#404040" stroke-width="0.22">2</text>
<line x1="443.55" y1="228" x2="448.15" y2="227.4" stroke="#707070" stroke-width="0.7"/>
<text x="438.15" y="223.8" font-size="7.4" fill="#3a3a3a" text-anchor="middle" stroke="#3a3a3a" stroke-width="0.22">c</text>
<line x1="463.35" y1="227.4" x2="467.75" y2="227.4" stroke="#707070" stroke-width="0.7"/>
<g transform="translate(470.65,219.2) scale(1)">
<path d="M-3.6,1.7 Q0,-1.5 3.6,1.7" fill="none" stroke="#404040" stroke-width="0.75"/>
<line x1="0" y1="-3.5" x2="0" y2="2.8" stroke="#404040" stroke-width="0.75"/>
<text transform="translate(-2.2,3.2) rotate(90)" font-size="6.3" fill="#404040" stroke="#404040" stroke-width="0.2" textLength="7.2" lengthAdjust="spacingAndGlyphs">CH</text>
<line x1="0" y1="10.7" x2="0" y2="15.8" stroke="#404040" stroke-width="0.75"/>
<text transform="translate(-2.2,16.3) rotate(90)" font-size="6.3" fill="#404040" stroke="#404040" stroke-width="0.2" textLength="7.4" lengthAdjust="spacingAndGlyphs">CH</text>
<text transform="translate(-4.2,24.0) rotate(90)" font-size="4.2" fill="#404040">2</text>
<path d="M-3.6,28.2 Q0,31.4 3.6,28.2" fill="none" stroke="#404040" stroke-width="0.75"/>
<line x1="0" y1="27.2" x2="0" y2="33.4" stroke="#404040" stroke-width="0.75"/>
<text transform="translate(-6.0,30.6) rotate(90)" font-size="4.2" fill="#404040">n</text>
</g>
<polygon points="463.35,262.6 459.55,268.66 451.95,268.66 448.15,262.6 451.95,256.54 459.55,256.54" fill="none" stroke="#707070" stroke-width="0.75"/>
<line x1="458.94" y1="257.92" x2="461.75" y2="262.4" stroke="#707070" stroke-width="0.8"/>
<line x1="458.56" y1="267.41" x2="452.94" y2="267.41" stroke="#707070" stroke-width="0.8"/>
<line x1="449.75" y1="262.4" x2="452.56" y2="257.92" stroke="#707070" stroke-width="0.8"/>
<text x="450.25" y="255.2" font-size="8.6" fill="#404040" text-anchor="middle" stroke="#404040" stroke-width="0.22" textLength="4.1" lengthAdjust="spacingAndGlyphs">a</text>
<text x="450.25" y="275.1" font-size="8.6" fill="#404040" text-anchor="middle" stroke="#404040" stroke-width="0.22" textLength="4.1" lengthAdjust="spacingAndGlyphs">a</text>
<text x="461.15" y="255.2" font-size="8.6" fill="#404040" text-anchor="middle" stroke="#404040" stroke-width="0.22" textLength="4.1" lengthAdjust="spacingAndGlyphs">a</text>
<text x="461.15" y="275.1" font-size="8.6" fill="#404040" text-anchor="middle" stroke="#404040" stroke-width="0.22" textLength="4.1" lengthAdjust="spacingAndGlyphs">a</text>
<polygon points="416.85,262.6 413.05,268.66 405.45,268.66 401.65,262.6 405.45,256.54 413.05,256.54" fill="none" stroke="#707070" stroke-width="0.75"/>
<line x1="412.44" y1="257.92" x2="415.25" y2="262.4" stroke="#707070" stroke-width="0.8"/>
<line x1="412.06" y1="267.41" x2="406.44" y2="267.41" stroke="#707070" stroke-width="0.8"/>
<line x1="403.25" y1="262.4" x2="406.06" y2="257.92" stroke="#707070" stroke-width="0.8"/>
<text x="403.75" y="255.2" font-size="8.6" fill="#404040" text-anchor="middle" stroke="#404040" stroke-width="0.22" textLength="4.1" lengthAdjust="spacingAndGlyphs">a</text>
<text x="403.75" y="275.1" font-size="8.6" fill="#404040" text-anchor="middle" stroke="#404040" stroke-width="0.22" textLength="4.1" lengthAdjust="spacingAndGlyphs">a</text>
<text x="414.65" y="255.2" font-size="8.6" fill="#404040" text-anchor="middle" stroke="#404040" stroke-width="0.22" textLength="4.1" lengthAdjust="spacingAndGlyphs">a</text>
<text x="414.65" y="275.1" font-size="8.6" fill="#404040" text-anchor="middle" stroke="#404040" stroke-width="0.22" textLength="4.1" lengthAdjust="spacingAndGlyphs">a</text>
<polygon points="393.25,262.6 389.45,268.66 381.85,268.66 378.05,262.6 381.85,256.54 389.45,256.54" fill="none" stroke="#707070" stroke-width="0.75"/>
<line x1="388.84" y1="257.92" x2="391.65" y2="262.4" stroke="#707070" stroke-width="0.8"/>
<line x1="388.46" y1="267.41" x2="382.84" y2="267.41" stroke="#707070" stroke-width="0.8"/>
<line x1="379.65" y1="262.4" x2="382.46" y2="257.92" stroke="#707070" stroke-width="0.8"/>
<text x="380.15" y="255.2" font-size="8.6" fill="#404040" text-anchor="middle" stroke="#404040" stroke-width="0.22" textLength="4.1" lengthAdjust="spacingAndGlyphs">a</text>
<text x="380.15" y="275.1" font-size="8.6" fill="#404040" text-anchor="middle" stroke="#404040" stroke-width="0.22" textLength="4.1" lengthAdjust="spacingAndGlyphs">a</text>
<text x="391.05" y="255.2" font-size="8.6" fill="#404040" text-anchor="middle" stroke="#404040" stroke-width="0.22" textLength="4.1" lengthAdjust="spacingAndGlyphs">a</text>
<text x="391.05" y="275.1" font-size="8.6" fill="#404040" text-anchor="middle" stroke="#404040" stroke-width="0.22" textLength="4.1" lengthAdjust="spacingAndGlyphs">a</text>
<line x1="393.25" y1="262.6" x2="401.65" y2="262.6" stroke="#707070" stroke-width="0.7"/>
<line x1="416.85" y1="262.6" x2="422.15" y2="262.6" stroke="#707070" stroke-width="0.7"/>
<text x="424.55" y="265.1" font-size="6.3" fill="#404040" text-anchor="middle" stroke="#404040" stroke-width="0.22">O</text>
<line x1="426.95" y1="262.6" x2="433.15" y2="262.6" stroke="#707070" stroke-width="0.7"/>
<text x="433.45" y="264.9" font-size="5.6" fill="#404040" text-anchor="start" stroke="#404040" stroke-width="0.22" textLength="7" lengthAdjust="spacingAndGlyphs">CH</text>
<text x="440.95" y="266.5" font-size="3.8" fill="#404040" text-anchor="start" stroke="#404040" stroke-width="0.22">2</text>
<line x1="443.35" y1="262.6" x2="448.15" y2="262.6" stroke="#707070" stroke-width="0.7"/>
<text x="438.45" y="257.6" font-size="7.6" fill="#3a3a3a" text-anchor="middle" stroke="#3a3a3a" stroke-width="0.22">b</text>
<line x1="463.35" y1="262.6" x2="467.75" y2="262.6" stroke="#707070" stroke-width="0.7"/>
<g transform="translate(470.65,254) scale(1)">
<path d="M-3.6,1.7 Q0,-1.5 3.6,1.7" fill="none" stroke="#404040" stroke-width="0.75"/>
<line x1="0" y1="-3.5" x2="0" y2="2.8" stroke="#404040" stroke-width="0.75"/>
<text transform="translate(-2.2,3.2) rotate(90)" font-size="6.3" fill="#404040" stroke="#404040" stroke-width="0.2" textLength="7.2" lengthAdjust="spacingAndGlyphs">CH</text>
<line x1="0" y1="10.7" x2="0" y2="15.8" stroke="#404040" stroke-width="0.75"/>
<text transform="translate(-2.2,16.3) rotate(90)" font-size="6.3" fill="#404040" stroke="#404040" stroke-width="0.2" textLength="7.4" lengthAdjust="spacingAndGlyphs">CH</text>
<text transform="translate(-4.2,24.0) rotate(90)" font-size="4.2" fill="#404040">2</text>
<path d="M-3.6,28.2 Q0,31.4 3.6,28.2" fill="none" stroke="#404040" stroke-width="0.75"/>
<line x1="0" y1="27.2" x2="0" y2="33.4" stroke="#404040" stroke-width="0.75"/>
<text transform="translate(-6.0,30.6) rotate(90)" font-size="4.2" fill="#404040">n</text>
</g>
<path d="M476.45,223.6 Q481.05,223 481.05,226.6 L481.05,248.9 Q481.05,250.9 484.45,250.9 Q481.05,250.9 481.05,252.9 L481.05,275.4 Q481.05,279 476.45,278.4" fill="none" stroke="#3a3a3a" stroke-width="1.15"/>
<text x="490.35" y="253.3" font-size="8.5" fill="#3a3a3a" text-anchor="middle" stroke="#3a3a3a" stroke-width="0.1">d</text>
<line x1="529.4" y1="353.2" x2="743.8" y2="353.2" stroke="#6e6e6e" stroke-width="1.4"/>
<line x1="731.94" y1="353.8" x2="731.94" y2="355.5" stroke="#444" stroke-width="1.1"/>
<text x="731.94" y="362.1" text-anchor="middle" font-weight="bold" font-size="7.2" fill="#1a1a1a" stroke="#1a1a1a" stroke-width="0.2">0</text>
<line x1="708.11" y1="353.8" x2="708.11" y2="355.5" stroke="#444" stroke-width="1.1"/>
<text x="708.11" y="362.1" text-anchor="middle" font-weight="bold" font-size="7.2" fill="#1a1a1a" stroke="#1a1a1a" stroke-width="0.2">1</text>
<line x1="684.28" y1="353.8" x2="684.28" y2="355.5" stroke="#444" stroke-width="1.1"/>
<text x="684.28" y="362.1" text-anchor="middle" font-weight="bold" font-size="7.2" fill="#1a1a1a" stroke="#1a1a1a" stroke-width="0.2">2</text>
<line x1="660.45" y1="353.8" x2="660.45" y2="355.5" stroke="#444" stroke-width="1.1"/>
<text x="660.45" y="362.1" text-anchor="middle" font-weight="bold" font-size="7.2" fill="#1a1a1a" stroke="#1a1a1a" stroke-width="0.2">3</text>
<line x1="636.62" y1="353.8" x2="636.62" y2="355.5" stroke="#444" stroke-width="1.1"/>
<text x="636.62" y="362.1" text-anchor="middle" font-weight="bold" font-size="7.2" fill="#1a1a1a" stroke="#1a1a1a" stroke-width="0.2">4</text>
<line x1="612.79" y1="353.8" x2="612.79" y2="355.5" stroke="#444" stroke-width="1.1"/>
<text x="612.79" y="362.1" text-anchor="middle" font-weight="bold" font-size="7.2" fill="#1a1a1a" stroke="#1a1a1a" stroke-width="0.2">5</text>
<line x1="588.96" y1="353.8" x2="588.96" y2="355.5" stroke="#444" stroke-width="1.1"/>
<text x="588.96" y="362.1" text-anchor="middle" font-weight="bold" font-size="7.2" fill="#1a1a1a" stroke="#1a1a1a" stroke-width="0.2">6</text>
<line x1="565.13" y1="353.8" x2="565.13" y2="355.5" stroke="#444" stroke-width="1.1"/>
<text x="565.13" y="362.1" text-anchor="middle" font-weight="bold" font-size="7.2" fill="#1a1a1a" stroke="#1a1a1a" stroke-width="0.2">7</text>
<line x1="541.3" y1="353.8" x2="541.3" y2="355.5" stroke="#444" stroke-width="1.1"/>
<text x="541.3" y="362.1" text-anchor="middle" font-weight="bold" font-size="7.2" fill="#1a1a1a" stroke="#1a1a1a" stroke-width="0.2">8</text>
<text x="599" y="372.4" font-weight="bold" font-size="7.6" fill="#1a1a1a" stroke="#1a1a1a" stroke-width="0.25" textLength="76" lengthAdjust="spacingAndGlyphs">Chemical Shift (ppm)</text>
<polyline fill="none" stroke="#1c1c1c" stroke-width="1.2" stroke-linejoin="round" points="529.3,343.31 529.55,343.31 529.8,343.3 530.05,343.3 530.3,343.29 530.55,343.29 530.8,343.28 531.05,343.28 531.3,343.27 531.55,343.27 531.8,343.26 532.05,343.25 532.3,343.25 532.55,343.24 532.8,343.23 533.05,343.22 533.3,343.22 533.55,343.21 533.8,343.2 534.05,343.19 534.3,343.18 534.55,343.16 534.8,343.15 535.05,343.14 535.3,343.13 535.55,343.12 535.8,343.1 536.05,343.09 536.3,343.07 536.55,343.06 536.8,343.04 537.05,343.02 537.3,343.01 537.55,342.99 537.8,342.97 538.05,342.95 538.3,342.93 538.55,342.91 538.8,342.89 539.05,342.87 539.3,342.85 539.55,342.83 539.8,342.8 540.05,342.78 540.3,342.76 540.55,342.73 540.8,342.71 541.05,342.68 541.3,342.66 541.55,342.63 541.8,342.6 542.05,342.58 542.3,342.55 542.55,342.52 542.8,342.49 543.05,342.47 543.3,342.44 543.55,342.41 543.8,342.38 544.05,342.35 544.3,342.32 544.55,342.29 544.8,342.26 545.05,342.23 545.3,342.2 545.55,342.17 545.8,342.14 546.05,342.11 546.3,342.08 546.55,342.05 546.8,342.02 547.05,341.99 547.3,341.96 547.55,341.92 547.8,341.89 548.05,341.85 548.3,341.82 548.55,341.78 548.8,341.74 549.05,341.7 549.3,341.66 549.55,341.61 549.8,341.56 550.05,341.5 550.3,341.44 550.55,341.36 550.8,341.28 550.83,341.27 551.05,341.18 551.3,341.07 551.55,340.93 551.8,340.76 552.05,340.55 552.3,340.28 552.55,339.93 552.8,339.48 553.05,338.85 553.3,337.87 553.55,336.13 553.8,332.66 554.05,325.73 554.3,313.09 554.55,293.3 554.8,267.75 555.05,242.43 555.3,227.45 555.36,226.49 555.55,230.85 555.8,249.25 556.05,271.86 556.3,288.87 556.55,292.76 556.8,280.37 557.05,262.46 557.15,260.17 557.3,265.78 557.55,286.34 557.8,300.43 558.05,300.61 558.3,287.7 558.55,269.68 558.7,265.41 558.8,268.12 559.05,286.63 559.3,303.97 559.55,313.14 559.8,317.28 560.05,319.79 560.3,321.85 560.55,323.58 560.8,324.72 561.05,324.71 561.3,322.94 561.55,319.29 561.8,314.78 562.05,311.97 562.15,312.04 562.3,313.68 562.55,319.51 562.8,326.45 563.05,332.23 563.3,336.05 563.55,338.19 563.8,339.25 564.05,339.73 564.3,339.86 564.55,339.67 564.8,339.08 565.05,337.9 565.3,335.84 565.55,332.61 565.8,327.96 566.05,321.81 566.3,314.43 566.55,306.42 566.8,298.59 567.05,292.03 567.27,289.28 567.3,289.31 567.55,292.88 567.8,299.57 568.05,307.25 568.3,314.95 568.55,321.88 568.8,327.5 569.05,331.64 569.3,334.41 569.55,336.08 569.8,336.98 570.05,337.36 570.3,337.42 570.55,337.28 570.8,337 571.05,336.62 571.09,336.55 571.3,336.13 571.55,335.56 571.8,334.88 572.05,334.12 572.3,333.25 572.55,332.3 572.8,331.28 573.05,330.18 573.3,329.05 573.55,327.89 573.8,326.75 574.05,325.65 574.3,324.63 574.55,323.73 574.8,323 575.05,322.45 575.3,322.14 575.55,322.07 575.62,322.09 575.8,322.25 576.05,322.69 576.3,323.35 576.55,324.21 576.8,325.22 577.05,326.32 577.3,327.47 577.55,328.61 577.8,329.67 578.05,330.64 578.3,331.5 578.55,332.26 578.8,332.95 579.05,333.63 579.3,334.38 579.43,334.8 579.55,335.24 579.8,336.21 580.05,337.24 580.3,338.28 580.55,339.25 580.8,340.1 581.05,340.82 581.3,341.39 581.55,341.82 581.8,342.15 582.05,342.38 582.3,342.55 582.55,342.67 582.8,342.76 583.05,342.83 583.3,342.88 583.55,342.92 583.8,342.96 584.05,342.98 584.3,343.01 584.55,343.03 584.8,343.05 585.05,343.06 585.3,343.08 585.55,343.09 585.8,343.1 586.05,343.12 586.3,343.13 586.55,343.14 586.8,343.14 587.05,343.15 587.3,343.16 587.55,343.17 587.8,343.18 588.05,343.18 588.3,343.19 588.55,343.19 588.8,343.2 589.05,343.2 589.3,343.21 589.55,343.21 589.8,343.22 590.05,343.22 590.3,343.23 590.55,343.23 590.8,343.23 591.05,343.24 591.3,343.24 591.55,343.24 591.8,343.24 592.05,343.25 592.3,343.25 592.55,343.25 592.8,343.25 593.05,343.26 593.3,343.26 593.55,343.26 593.8,343.26 594.05,343.26 594.3,343.26 594.55,343.26 594.8,343.27 595.05,343.27 595.3,343.27 595.55,343.27 595.8,343.27 596.05,343.27 596.3,343.27 596.55,343.27 596.8,343.27 597.05,343.27 597.3,343.27 597.55,343.27 597.8,343.27 598.05,343.27 598.3,343.27 598.55,343.27 598.8,343.27 599.05,343.27 599.3,343.27 599.55,343.26 599.8,343.26 600.05,343.26 600.3,343.26 600.55,343.26 600.8,343.25 601.05,343.25 601.3,343.25 601.55,343.24 601.8,343.24 602.05,343.23 602.3,343.22 602.55,343.2 602.8,343.17 603.05,343.1 603.3,342.94 603.55,342.68 603.8,342.32 604.05,342 604.21,341.93 604.3,341.95 604.55,342.2 604.8,342.55 605.05,342.85 605.3,343.02 605.55,343.1 605.8,343.13 606.05,343.14 606.3,343.14 606.55,343.14 606.8,343.13 607.05,343.13 607.3,343.12 607.55,343.11 607.8,343.09 608.05,343.08 608.3,343.06 608.55,343.04 608.8,343.02 609.05,343 609.3,342.98 609.55,342.95 609.8,342.91 610.05,342.88 610.3,342.84 610.55,342.79 610.8,342.74 611.05,342.67 611.3,342.6 611.55,342.52 611.8,342.41 612.05,342.29 612.3,342.12 612.55,341.89 612.8,341.54 613.05,341.02 613.3,340.2 613.55,338.95 613.8,337.08 614.05,334.43 614.3,330.87 614.55,326.37 614.8,321.11 615.05,315.46 615.3,310.06 615.55,305.78 615.8,303.54 615.89,303.37 616.05,303.94 616.3,306.88 616.55,311.59 616.8,317.15 617.05,322.74 617.3,327.8 617.55,332.03 617.8,335.31 618.05,337.72 618.3,339.38 618.55,340.49 618.8,341.2 619.05,341.66 619.3,341.97 619.55,342.18 619.8,342.33 620.05,342.45 620.3,342.55 620.55,342.63 620.8,342.7 621.05,342.76 621.3,342.81 621.55,342.86 621.8,342.9 622.05,342.93 622.3,342.96 622.55,342.99 622.8,343.02 623.05,343.04 623.3,343.06 623.55,343.08 623.8,343.09 624.05,343.11 624.3,343.12 624.55,343.13 624.8,343.14 625.05,343.15 625.3,343.16 625.55,343.16 625.8,343.17 626.05,343.17 626.3,343.17 626.55,343.16 626.8,343.15 627.05,343.12 627.3,343.07 627.55,342.98 627.8,342.83 628.05,342.62 628.3,342.34 628.55,342.03 628.8,341.74 629.05,341.53 629.23,341.48 629.3,341.49 629.55,341.63 629.8,341.91 630.05,342.23 630.3,342.53 630.55,342.78 630.8,342.96 631.05,343.09 631.3,343.16 631.55,343.21 631.8,343.24 632.05,343.25 632.3,343.27 632.55,343.28 632.8,343.28 633.05,343.29 633.3,343.29 633.55,343.3 633.8,343.3 634.05,343.31 634.3,343.31 634.55,343.31 634.8,343.32 635.05,343.32 635.3,343.32 635.55,343.32 635.8,343.32 636.05,343.33 636.3,343.33 636.55,343.33 636.8,343.33 637.05,343.33 637.3,343.33 637.55,343.33 637.8,343.34 638.05,343.34 638.3,343.34 638.55,343.34 638.8,343.34 639.05,343.34 639.3,343.34 639.55,343.34 639.8,343.34 640.05,343.34 640.3,343.34 640.55,343.34 640.8,343.35 641.05,343.35 641.3,343.35 641.55,343.35 641.8,343.35 642.05,343.35 642.3,343.35 642.55,343.35 642.8,343.35 643.05,343.35 643.3,343.35 643.55,343.35 643.8,343.35 644.05,343.35 644.3,343.35 644.55,343.35 644.8,343.35 645.05,343.35 645.3,343.35 645.55,343.35 645.8,343.35 646.05,343.34 646.3,343.34 646.55,343.34 646.8,343.34 647.05,343.33 647.3,343.32 647.55,343.31 647.8,343.26 648.05,341.81 648.3,332.34 648.3,332.34 648.55,341.95 648.8,343.25 649.05,343.3 649.3,343.31 649.55,343.31 649.8,343.31 650.05,343.31 650.3,343.3 650.55,343.3 650.8,343.29 651.05,343.27 651.3,343.25 651.55,343.22 651.8,343.15 652.05,343.02 652.3,342.75 652.55,342.27 652.8,341.54 653.05,340.66 653.3,339.88 653.54,339.56 653.55,339.56 653.8,339.93 654.05,340.74 654.3,341.61 654.55,342.32 654.8,342.78 655.05,343.03 655.3,343.16 655.55,343.22 655.8,343.26 656.05,343.28 656.3,343.29 656.55,343.3 656.8,343.31 657.05,343.32 657.3,343.32 657.55,343.33 657.8,343.33 658.05,343.33 658.3,343.34 658.55,343.34 658.8,343.34 659.05,343.34 659.3,343.34 659.55,343.34 659.8,343.34 660.05,343.34 660.3,343.34 660.55,343.34 660.8,343.34 661.05,343.34 661.3,343.34 661.55,343.34 661.8,343.34 662.05,343.34 662.3,343.34 662.55,343.34 662.8,343.34 663.05,343.34 663.3,343.34 663.55,343.34 663.8,343.34 664.05,343.33 664.3,343.33 664.55,343.33 664.8,343.33 665.05,343.33 665.3,343.32 665.55,343.32 665.8,343.32 666.05,343.31 666.3,343.31 666.55,343.31 666.8,343.3 667.05,343.3 667.3,343.29 667.55,343.29 667.8,343.28 668.05,343.27 668.3,343.27 668.55,343.26 668.8,343.25 669.05,343.24 669.3,343.23 669.55,343.22 669.8,343.21 670.05,343.2 670.3,343.19 670.55,343.17 670.8,343.16 671.05,343.14 671.3,343.13 671.55,343.11 671.8,343.09 672.05,343.07 672.3,343.05 672.55,343.03 672.8,343 673.05,342.98 673.3,342.95 673.55,342.92 673.8,342.89 674.05,342.85 674.3,342.81 674.55,342.77 674.8,342.73 675.05,342.68 675.3,342.63 675.55,342.57 675.8,342.49 676.05,342.4 676.3,342.27 676.55,342.07 676.8,341.77 677.05,341.31 677.3,340.66 677.55,339.81 677.8,338.81 678.05,337.8 678.3,336.99 678.55,336.61 678.56,336.61 678.8,336.81 679.05,337.46 679.3,338.34 679.55,339.21 679.8,339.94 680.05,340.48 680.3,340.81 680.55,340.98 680.8,341.02 681.05,340.96 681.3,340.79 681.55,340.49 681.8,339.99 682.05,339.25 682.3,338.28 682.55,337.2 682.8,336.24 683.05,335.73 683.09,335.71 683.3,335.87 683.55,336.56 683.8,337.46 684.05,338.29 684.3,338.92 684.55,339.3 684.8,339.45 685.05,339.42 685.3,339.26 685.55,338.99 685.8,338.6 686.05,338.08 686.3,337.42 686.55,336.61 686.8,335.66 687.05,334.6 687.3,333.48 687.55,332.39 687.8,331.44 688.05,330.76 688.3,330.44 688.33,330.43 688.55,330.55 688.8,331.05 689.05,331.85 689.3,332.81 689.55,333.83 689.8,334.82 690.05,335.7 690.3,336.45 690.55,337.05 690.8,337.51 691.05,337.83 691.3,338.04 691.43,338.1 691.55,338.14 691.8,338.17 692.05,338.11 692.3,337.98 692.55,337.77 692.8,337.46 693.05,337.04 693.3,336.5 693.55,335.82 693.8,334.99 694.05,334.03 694.3,332.92 694.55,331.7 694.8,330.4 695.05,329.07 695.3,327.77 695.55,326.55 695.8,325.47 696.05,324.57 696.3,323.85 696.43,323.53 696.55,323.28 696.8,322.78 697.05,322.31 697.3,321.85 697.55,321.53 697.8,321.59 698.05,322.36 698.1,322.62 698.3,324.02 698.55,326.42 698.8,329.13 699.05,331.75 699.3,334.01 699.55,335.78 699.8,336.97 700.05,337.25 700.3,335.67 700.55,332.22 700.72,330.99 700.8,331.43 701.05,335.39 701.3,338.69 701.55,340.03 701.8,340.47 702.05,340.66 702.3,340.74 702.55,340.73 702.8,340.63 703.05,340.45 703.3,340.19 703.55,339.87 703.8,339.54 704.05,339.24 704.3,339.05 704.53,339.03 704.55,339.04 704.8,339.22 705.05,339.57 705.3,340.02 705.55,340.5 705.8,340.96 706.05,341.37 706.3,341.71 706.55,341.98 706.8,342.18 707.05,342.32 707.3,342.43 707.55,342.51 707.8,342.57 708.05,342.61 708.3,342.65 708.55,342.67 708.8,342.67 709.05,342.63 709.3,342.47 709.55,342.08 709.8,341.34 710.05,340.29 710.3,339.31 710.49,339.02 710.55,339.06 710.8,339.77 711.05,340.9 711.3,341.88 711.55,342.51 711.8,342.82 712.05,342.97 712.3,343.04 712.55,343.08 712.8,343.11 713.05,343.14 713.3,343.16 713.55,343.18 713.8,343.2 714.05,343.21 714.3,343.22 714.55,343.24 714.8,343.25 715.05,343.26 715.3,343.26 715.55,343.27 715.8,343.28 716.05,343.29 716.3,343.29 716.55,343.3 716.8,343.3 717.05,343.31 717.3,343.31 717.55,343.32 717.8,343.32 718.05,343.32 718.3,343.33 718.55,343.33 718.8,343.33 719.05,343.34 719.3,343.34 719.55,343.34 719.8,343.34 720.05,343.34 720.3,343.35 720.55,343.35 720.8,343.35 721.05,343.35 721.3,343.35 721.55,343.35 721.8,343.36 722.05,343.36 722.3,343.36 722.55,343.36 722.8,343.36 723.05,343.36 723.3,343.36 723.55,343.36 723.8,343.36 724.05,343.36 724.3,343.36 724.55,343.36 724.8,343.37 725.05,343.37 725.3,343.37 725.55,343.37 725.8,343.37 726.05,343.37 726.3,343.37 726.55,343.37 726.8,343.37 727.05,343.37 727.3,343.36 727.55,343.36 727.8,343.36 728.05,343.36 728.3,343.35 728.55,343.34 728.8,343.29 729.05,343.1 729.3,342.69 729.55,342.38 729.56,342.38 729.8,342.66 730.05,343.09 730.3,343.29 730.55,343.34 730.8,343.35 731.05,343.36 731.3,343.37 731.55,343.37 731.8,343.37 732.05,343.37 732.3,343.37 732.55,343.38 732.8,343.38 733.05,343.38 733.3,343.38 733.55,343.38 733.8,343.38 734.05,343.38 734.3,343.38 734.55,343.38 734.8,343.38 735.05,343.38 735.3,343.38 735.55,343.38 735.8,343.38 736.05,343.38 736.3,343.38 736.55,343.38 736.8,343.38 737.05,343.38 737.3,343.38 737.55,343.38 737.8,343.38 738.05,343.38 738.3,343.38 738.55,343.38 738.8,343.38 739.05,343.38 739.3,343.38 739.55,343.38 739.8,343.38 740.05,343.38 740.3,343.38 740.55,343.39 740.8,343.39 741.05,343.39 741.3,343.39 741.55,343.39 741.8,343.39 742.05,343.39 742.3,343.39 742.55,343.39 742.8,343.39 743.05,343.39 743.3,343.39 743.55,343.39 743.8,343.39"/>
<text x="519.5" y="226.8" font-size="16.3" fill="#222" textLength="18.6" lengthAdjust="spacingAndGlyphs">(f)</text>
<path d="M553,224.3 Q553,220.3 555.2,220.3 L565.45,220.3 Q566.65,220.3 566.65,216 Q566.65,220.3 567.85,220.3 L578.1,220.3 Q580.3,220.3 580.3,224.3" fill="none" stroke="#3a3a3a" stroke-width="0.95"/>
<text x="566.65" y="212.4" text-anchor="middle" font-size="8.2" fill="#3a3a3a">a</text>
<text x="615.9" y="299.1" text-anchor="middle" font-size="8.2" fill="#3a3a3a">b</text>
<path d="M684.7,318.3 Q684.7,314.3 686.9,314.3 L694.35,314.3 Q695.55,314.3 695.55,310.6 Q695.55,314.3 696.75,314.3 L704.2,314.3 Q706.4,314.3 706.4,318.3" fill="none" stroke="#3a3a3a" stroke-width="0.95"/>
<text x="695.55" y="307.3" text-anchor="middle" font-size="8.2" fill="#3a3a3a">c</text>
<polygon points="725.45,238.4 721.65,244.46 714.05,244.46 710.25,238.4 714.05,232.34 721.65,232.34" fill="none" stroke="#707070" stroke-width="0.75"/>
<line x1="721.04" y1="233.72" x2="723.85" y2="238.2" stroke="#707070" stroke-width="0.8"/>
<line x1="720.66" y1="243.21" x2="715.04" y2="243.21" stroke="#707070" stroke-width="0.8"/>
<line x1="711.85" y1="238.2" x2="714.66" y2="233.72" stroke="#707070" stroke-width="0.8"/>
<text x="712.35" y="231" font-size="8.6" fill="#404040" text-anchor="middle" stroke="#404040" stroke-width="0.22" textLength="4.1" lengthAdjust="spacingAndGlyphs">a</text>
<text x="712.35" y="250.9" font-size="8.6" fill="#404040" text-anchor="middle" stroke="#404040" stroke-width="0.22" textLength="4.1" lengthAdjust="spacingAndGlyphs">a</text>
<text x="723.25" y="231" font-size="8.6" fill="#404040" text-anchor="middle" stroke="#404040" stroke-width="0.22" textLength="4.1" lengthAdjust="spacingAndGlyphs">a</text>
<text x="723.25" y="250.9" font-size="8.6" fill="#404040" text-anchor="middle" stroke="#404040" stroke-width="0.22" textLength="4.1" lengthAdjust="spacingAndGlyphs">a</text>
<polygon points="677.45,238.4 673.65,244.46 666.05,244.46 662.25,238.4 666.05,232.34 673.65,232.34" fill="none" stroke="#707070" stroke-width="0.75"/>
<line x1="673.04" y1="233.72" x2="675.85" y2="238.2" stroke="#707070" stroke-width="0.8"/>
<line x1="672.66" y1="243.21" x2="667.04" y2="243.21" stroke="#707070" stroke-width="0.8"/>
<line x1="663.85" y1="238.2" x2="666.66" y2="233.72" stroke="#707070" stroke-width="0.8"/>
<text x="664.35" y="231" font-size="8.6" fill="#404040" text-anchor="middle" stroke="#404040" stroke-width="0.22" textLength="4.1" lengthAdjust="spacingAndGlyphs">a</text>
<text x="664.35" y="250.9" font-size="8.6" fill="#404040" text-anchor="middle" stroke="#404040" stroke-width="0.22" textLength="4.1" lengthAdjust="spacingAndGlyphs">a</text>
<text x="675.25" y="231" font-size="8.6" fill="#404040" text-anchor="middle" stroke="#404040" stroke-width="0.22" textLength="4.1" lengthAdjust="spacingAndGlyphs">a</text>
<text x="675.25" y="250.9" font-size="8.6" fill="#404040" text-anchor="middle" stroke="#404040" stroke-width="0.22" textLength="4.1" lengthAdjust="spacingAndGlyphs">a</text>
<polygon points="653.65,238.4 649.85,244.46 642.25,244.46 638.45,238.4 642.25,232.34 649.85,232.34" fill="none" stroke="#707070" stroke-width="0.75"/>
<line x1="649.24" y1="233.72" x2="652.05" y2="238.2" stroke="#707070" stroke-width="0.8"/>
<line x1="648.86" y1="243.21" x2="643.24" y2="243.21" stroke="#707070" stroke-width="0.8"/>
<line x1="640.05" y1="238.2" x2="642.86" y2="233.72" stroke="#707070" stroke-width="0.8"/>
<text x="640.55" y="231" font-size="8.6" fill="#404040" text-anchor="middle" stroke="#404040" stroke-width="0.22" textLength="4.1" lengthAdjust="spacingAndGlyphs">a</text>
<text x="640.55" y="250.9" font-size="8.6" fill="#404040" text-anchor="middle" stroke="#404040" stroke-width="0.22" textLength="4.1" lengthAdjust="spacingAndGlyphs">a</text>
<text x="651.45" y="231" font-size="8.6" fill="#404040" text-anchor="middle" stroke="#404040" stroke-width="0.22" textLength="4.1" lengthAdjust="spacingAndGlyphs">a</text>
<text x="651.45" y="250.9" font-size="8.6" fill="#404040" text-anchor="middle" stroke="#404040" stroke-width="0.22" textLength="4.1" lengthAdjust="spacingAndGlyphs">a</text>
<text x="634.05" y="240.8" font-size="8.6" fill="#404040" text-anchor="middle" stroke="#404040" stroke-width="0.22" textLength="3.9" lengthAdjust="spacingAndGlyphs">a</text>
<line x1="653.65" y1="238.4" x2="662.25" y2="238.4" stroke="#707070" stroke-width="0.7"/>
<line x1="677.45" y1="238.4" x2="683.35" y2="238.4" stroke="#707070" stroke-width="0.7"/>
<text x="685.95" y="240.9" font-size="6.3" fill="#404040" text-anchor="middle" stroke="#404040" stroke-width="0.22">O</text>
<line x1="688.45" y1="238.4" x2="694.65" y2="238.4" stroke="#707070" stroke-width="0.7"/>
<text x="695.25" y="240.7" font-size="5.6" fill="#404040" text-anchor="start" stroke="#404040" stroke-width="0.22" textLength="7" lengthAdjust="spacingAndGlyphs">CH</text>
<text x="702.65" y="242.3" font-size="3.8" fill="#404040" text-anchor="start" stroke="#404040" stroke-width="0.22">2</text>
<line x1="705.05" y1="238.4" x2="710.25" y2="238.4" stroke="#707070" stroke-width="0.7"/>
<text x="700.05" y="232.4" font-size="7.6" fill="#3a3a3a" text-anchor="middle" stroke="#3a3a3a" stroke-width="0.22">b</text>
<line x1="725.45" y1="238.4" x2="730.25" y2="238.4" stroke="#707070" stroke-width="0.7"/>
<g transform="translate(733.15,229.8) scale(1)">
<path d="M-3.6,1.7 Q0,-1.5 3.6,1.7" fill="none" stroke="#404040" stroke-width="0.75"/>
<line x1="0" y1="-3.5" x2="0" y2="2.8" stroke="#404040" stroke-width="0.75"/>
<text transform="translate(-2.2,3.2) rotate(90)" font-size="6.3" fill="#404040" stroke="#404040" stroke-width="0.2" textLength="7.2" lengthAdjust="spacingAndGlyphs">CH</text>
<line x1="0" y1="10.7" x2="0" y2="15.8" stroke="#404040" stroke-width="0.75"/>
<text transform="translate(-2.2,16.3) rotate(90)" font-size="6.3" fill="#404040" stroke="#404040" stroke-width="0.2" textLength="7.4" lengthAdjust="spacingAndGlyphs">CH</text>
<text transform="translate(-4.2,24.0) rotate(90)" font-size="4.2" fill="#404040">2</text>
<path d="M-3.6,28.2 Q0,31.4 3.6,28.2" fill="none" stroke="#404040" stroke-width="0.75"/>
<line x1="0" y1="27.2" x2="0" y2="33.4" stroke="#404040" stroke-width="0.75"/>
<text transform="translate(-6.0,30.6) rotate(90)" font-size="4.2" fill="#404040">n</text>
</g>
<path d="M738.95,232.4 Q743.15,231.8 743.15,235.4 L743.15,241.6 Q743.15,243.6 746.35,243.6 Q743.15,243.6 743.15,245.6 L743.15,251.6 Q743.15,255.2 738.95,254.6" fill="none" stroke="#3a3a3a" stroke-width="1.15"/>
<text x="752.15" y="246.8" font-size="9" fill="#3a3a3a" text-anchor="middle" stroke="#3a3a3a" stroke-width="0.1">c</text>
</svg>
</body></html>
